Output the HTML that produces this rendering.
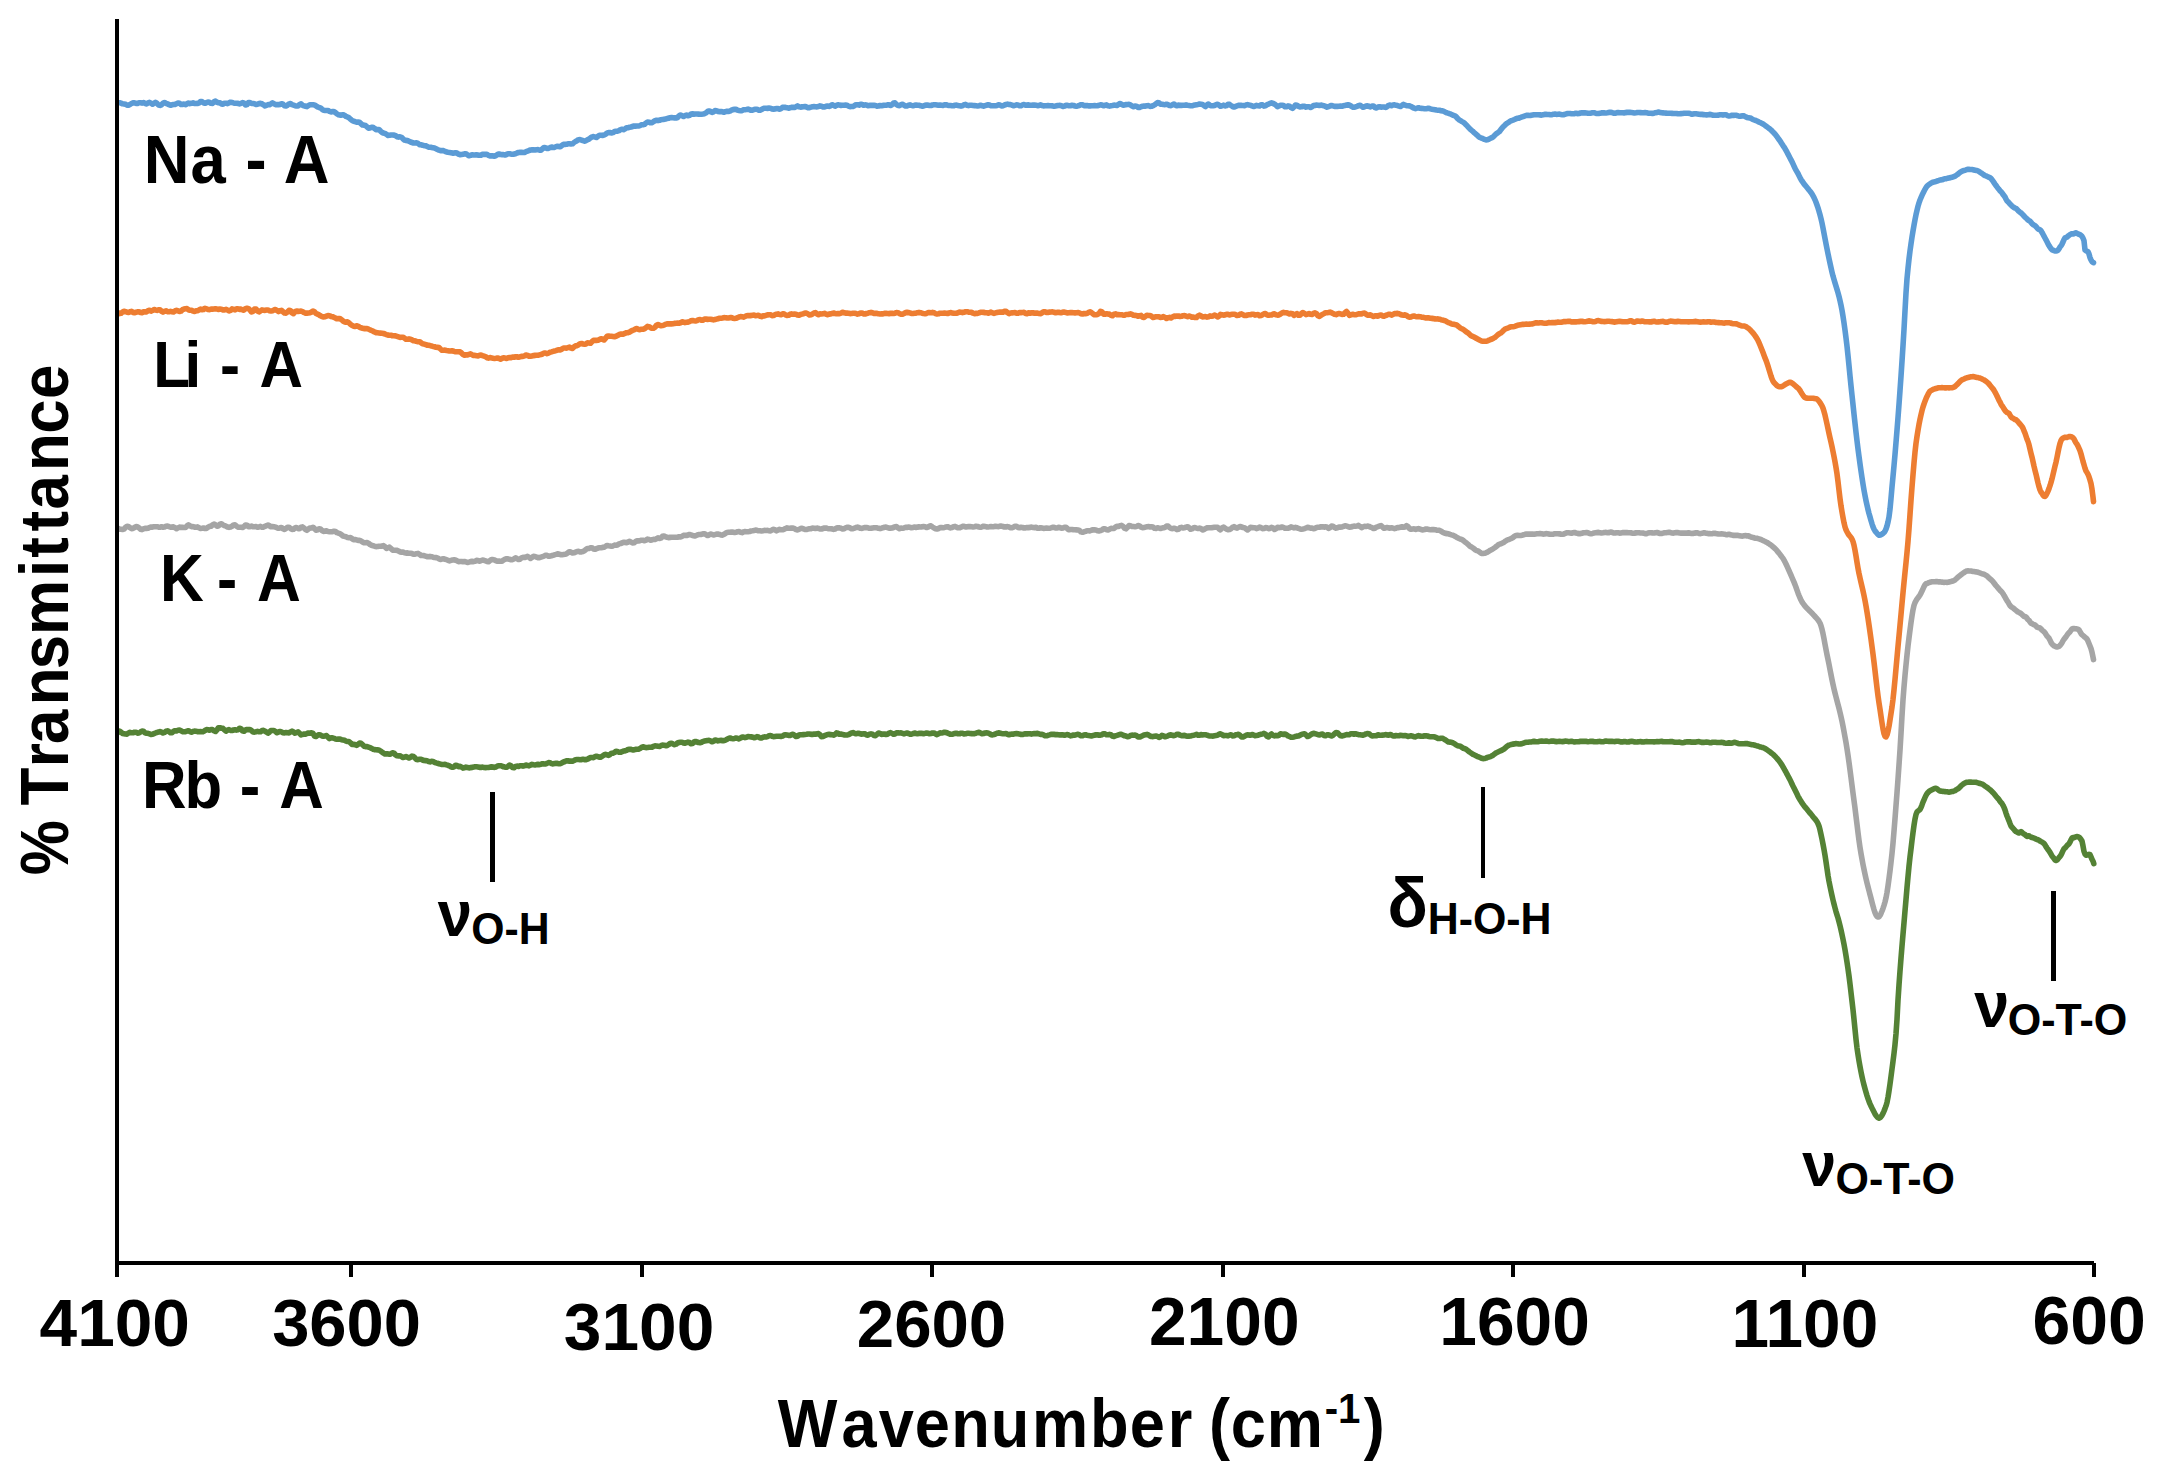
<!DOCTYPE html>
<html lang="en"><head><meta charset="utf-8"><title>FTIR spectra</title>
<style>html,body{margin:0;padding:0;background:#fff}body{width:2163px;height:1476px;overflow:hidden}</style></head>
<body>
<svg width="2163" height="1476" viewBox="0 0 2163 1476" style="display:block">
<rect width="2163" height="1476" fill="#fff"/>
<path d="M118.0,102.8 119.5,102.7 121.0,103.2 122.5,103.8 124.0,104.0 125.5,104.3 127.0,105.1 128.5,105.2 130.0,104.5 131.5,103.5 133.0,102.9 134.5,102.9 136.0,103.4 137.5,103.4 139.0,102.7 140.5,102.8 142.0,103.1 143.5,102.6 145.0,103.3 146.5,103.9 148.0,102.9 149.5,102.4 151.0,103.2 152.5,104.2 154.0,103.4 155.5,102.3 157.0,103.3 158.5,105.0 160.0,105.4 161.5,104.8 163.0,103.3 164.5,102.5 166.0,103.3 167.5,103.9 169.0,104.6 170.5,105.3 172.0,104.8 173.5,104.5 175.0,104.4 176.5,103.7 178.0,103.0 179.5,103.3 181.0,104.4 182.5,104.4 184.0,104.1 185.5,104.6 187.0,103.9 188.5,103.0 190.0,103.6 191.5,103.3 193.0,102.8 194.5,103.4 196.0,103.5 197.5,103.4 199.0,103.1 200.5,101.6 202.0,101.5 203.5,102.8 205.0,103.3 206.5,102.7 208.0,102.1 209.5,102.3 211.0,103.3 212.5,103.4 214.0,101.8 215.5,101.1 217.0,102.3 218.5,102.7 220.0,102.9 221.5,103.9 223.0,104.2 224.5,103.2 226.0,103.2 227.5,103.7 229.0,102.8 230.5,102.2 232.0,102.5 233.5,102.9 235.0,103.2 236.5,103.2 238.0,103.4 239.5,103.9 241.0,103.4 242.5,102.6 244.0,103.2 245.5,105.0 247.0,104.6 248.5,102.5 250.0,102.5 251.5,103.5 253.0,103.5 254.5,103.8 256.0,104.5 257.5,104.2 259.0,103.6 260.5,103.4 262.0,103.8 263.5,104.8 265.0,105.9 266.5,105.4 268.0,104.6 269.5,104.7 271.0,103.9 272.5,102.9 274.0,103.8 275.5,104.6 277.0,104.5 278.5,104.6 280.0,104.4 281.5,103.7 283.0,104.2 284.5,105.7 286.0,106.0 287.5,105.2 289.0,103.9 290.5,103.6 292.0,104.7 293.5,105.2 295.0,105.7 296.5,106.0 298.0,105.9 299.5,104.5 301.0,103.9 302.5,105.3 304.0,105.8 305.5,106.2 307.0,106.6 308.5,105.5 310.0,104.8 311.5,104.8 313.0,104.8 314.5,105.0 316.0,105.9 317.5,106.9 319.0,107.5 320.5,107.9 322.0,109.2 323.5,110.3 325.0,110.5 326.5,110.5 328.0,110.5 329.5,111.4 331.0,111.9 332.5,111.6 334.0,111.6 335.5,112.6 337.0,113.9 338.5,114.7 340.0,115.1 341.5,115.1 343.0,114.7 344.5,115.3 346.0,116.4 347.5,117.0 349.0,117.8 350.5,119.2 352.0,120.5 353.5,121.1 355.0,121.7 356.5,122.2 358.0,122.1 359.5,122.3 361.0,123.8 362.5,125.0 364.0,125.1 365.5,125.5 367.0,126.9 368.5,128.2 370.0,128.0 371.5,127.4 373.0,127.3 374.5,128.4 376.0,129.7 377.5,129.6 379.0,129.6 380.5,131.1 382.0,132.4 383.5,133.1 385.0,133.4 386.5,134.3 388.0,135.4 389.5,135.3 391.0,135.0 392.5,135.0 394.0,135.1 395.5,135.7 397.0,136.7 398.5,137.1 400.0,136.8 401.5,137.3 403.0,138.8 404.5,140.1 406.0,140.4 407.5,140.6 409.0,141.3 410.5,142.0 412.0,142.5 413.5,143.0 415.0,143.0 416.5,142.8 418.0,143.4 419.5,144.6 421.0,144.8 422.5,145.2 424.0,145.7 425.5,145.7 427.0,146.3 428.5,147.2 430.0,147.3 431.5,147.4 433.0,147.7 434.5,148.0 436.0,148.7 437.5,149.5 439.0,150.2 440.5,150.7 442.0,150.5 443.5,150.6 445.0,151.4 446.5,152.0 448.0,152.3 449.5,152.5 451.0,152.7 452.5,153.1 454.0,153.1 455.5,152.8 457.0,153.1 458.5,154.1 460.0,154.7 461.5,154.5 463.0,154.3 464.5,153.8 466.0,153.7 467.5,154.9 469.0,155.8 470.5,155.4 472.0,154.7 473.5,155.0 475.0,155.0 476.5,154.7 478.0,155.1 479.5,155.3 481.0,155.1 482.5,154.4 484.0,154.3 485.5,154.4 487.0,154.4 488.5,155.3 490.0,155.9 491.5,155.7 493.0,155.9 494.5,156.2 496.0,155.6 497.5,154.5 499.0,154.0 500.5,154.5 502.0,154.6 503.5,154.6 505.0,155.0 506.5,154.5 508.0,153.7 509.5,153.8 511.0,154.1 512.5,154.2 514.0,154.1 515.5,153.7 517.0,153.0 518.5,152.5 520.0,152.4 521.5,152.3 523.0,152.5 524.5,152.4 526.0,151.7 527.5,151.2 529.0,150.5 530.5,150.0 532.0,149.9 533.5,149.8 535.0,150.0 536.5,149.7 538.0,149.6 539.5,150.1 541.0,150.1 542.5,148.7 544.0,147.5 545.5,147.8 547.0,148.4 548.5,148.4 550.0,147.6 551.5,147.0 553.0,147.5 554.5,147.4 556.0,146.6 557.5,146.2 559.0,146.6 560.5,146.6 562.0,145.3 563.5,144.3 565.0,144.4 566.5,144.3 568.0,143.8 569.5,143.7 571.0,144.0 572.5,143.8 574.0,142.5 575.5,141.5 577.0,140.7 578.5,139.7 580.0,139.6 581.5,140.1 583.0,140.7 584.5,141.2 586.0,140.6 587.5,139.8 589.0,139.1 590.5,137.9 592.0,136.9 593.5,136.6 595.0,137.1 596.5,137.4 598.0,136.3 599.5,135.2 601.0,135.3 602.5,135.4 604.0,135.1 605.5,134.3 607.0,133.1 608.5,132.5 610.0,132.6 611.5,132.9 613.0,132.6 614.5,131.6 616.0,131.3 617.5,131.2 619.0,130.7 620.5,129.6 622.0,129.2 623.5,129.7 625.0,128.9 626.5,127.8 628.0,127.7 629.5,127.3 631.0,127.0 632.5,126.5 634.0,126.0 635.5,126.1 637.0,126.0 638.5,126.0 640.0,125.6 641.5,124.8 643.0,124.8 644.5,124.4 646.0,123.0 647.5,122.0 649.0,122.2 650.5,122.8 652.0,122.6 653.5,121.7 655.0,120.7 656.5,120.3 658.0,120.6 659.5,120.3 661.0,119.7 662.5,119.5 664.0,119.4 665.5,119.0 667.0,118.6 668.5,118.3 670.0,117.7 671.5,117.5 673.0,117.8 674.5,117.9 676.0,118.0 677.5,117.5 679.0,115.9 680.5,115.0 682.0,115.8 683.5,116.5 685.0,115.6 686.5,115.0 688.0,115.8 689.5,115.4 691.0,114.0 692.5,113.9 694.0,114.1 695.5,114.0 697.0,114.0 698.5,114.1 700.0,114.2 701.5,114.2 703.0,114.0 704.5,113.7 706.0,112.8 707.5,111.5 709.0,111.0 710.5,111.5 712.0,112.4 713.5,111.8 715.0,110.5 716.5,110.7 718.0,111.4 719.5,111.6 721.0,111.5 722.5,111.8 724.0,112.3 725.5,111.6 727.0,111.2 728.5,111.4 730.0,111.1 731.5,110.2 733.0,109.6 734.5,109.4 736.0,109.4 737.5,110.1 739.0,110.5 740.5,110.7 742.0,110.6 743.5,109.8 745.0,109.7 746.5,109.5 748.0,109.1 749.5,109.7 751.0,110.3 752.5,110.1 754.0,109.6 755.5,109.3 757.0,109.3 758.5,110.1 760.0,110.3 761.5,109.5 763.0,108.7 764.5,108.2 766.0,108.3 767.5,108.4 769.0,108.1 770.5,108.2 772.0,108.9 773.5,109.1 775.0,108.9 776.5,108.6 778.0,108.5 779.5,109.2 781.0,108.6 782.5,107.4 784.0,107.3 785.5,107.4 787.0,107.7 788.5,108.2 790.0,107.8 791.5,107.4 793.0,107.2 794.5,107.4 796.0,106.7 797.5,105.9 799.0,106.8 800.5,107.1 802.0,106.9 803.5,106.8 805.0,106.5 806.5,107.0 808.0,107.7 809.5,107.6 811.0,107.1 812.5,106.7 814.0,106.6 815.5,106.7 817.0,106.9 818.5,106.5 820.0,105.9 821.5,106.2 823.0,106.9 824.5,106.9 826.0,106.3 827.5,106.0 829.0,106.4 830.5,105.8 832.0,104.7 833.5,105.3 835.0,106.2 836.5,105.4 838.0,104.7 839.5,105.1 841.0,105.4 842.5,105.3 844.0,105.2 845.5,105.1 847.0,105.3 848.5,106.1 850.0,106.6 851.5,106.5 853.0,106.4 854.5,105.7 856.0,104.7 857.5,104.8 859.0,105.1 860.5,104.4 862.0,104.4 863.5,105.2 865.0,104.9 866.5,105.0 868.0,105.7 869.5,105.4 871.0,105.4 872.5,105.4 874.0,105.3 875.5,105.5 877.0,106.1 878.5,106.0 880.0,105.5 881.5,105.7 883.0,105.4 884.5,105.2 886.0,105.3 887.5,104.8 889.0,104.9 890.5,105.5 892.0,104.7 893.5,103.0 895.0,102.9 896.5,104.4 898.0,105.5 899.5,105.6 901.0,104.7 902.5,104.3 904.0,105.1 905.5,106.0 907.0,106.0 908.5,105.3 910.0,104.9 911.5,105.4 913.0,105.8 914.5,105.3 916.0,105.0 917.5,105.3 919.0,105.3 920.5,105.7 922.0,106.2 923.5,105.9 925.0,105.3 926.5,105.0 928.0,105.1 929.5,105.5 931.0,105.5 932.5,105.0 934.0,104.8 935.5,104.8 937.0,105.0 938.5,105.3 940.0,105.1 941.5,105.3 943.0,105.5 944.5,104.9 946.0,104.7 947.5,105.2 949.0,105.5 950.5,105.5 952.0,105.7 953.5,105.8 955.0,105.2 956.5,105.1 958.0,105.5 959.5,105.8 961.0,106.1 962.5,105.8 964.0,104.7 965.5,104.4 967.0,105.2 968.5,105.6 970.0,105.3 971.5,105.3 973.0,105.5 974.5,105.6 976.0,105.8 977.5,106.0 979.0,105.7 980.5,105.3 982.0,105.7 983.5,106.2 985.0,105.6 986.5,105.2 988.0,104.8 989.5,105.1 991.0,105.8 992.5,105.7 994.0,105.7 995.5,105.8 997.0,105.5 998.5,104.8 1000.0,105.0 1001.5,106.0 1003.0,105.7 1004.5,105.0 1006.0,104.5 1007.5,104.1 1009.0,104.5 1010.5,104.6 1012.0,105.1 1013.5,105.8 1015.0,105.4 1016.5,104.9 1018.0,105.0 1019.5,105.7 1021.0,105.7 1022.5,104.9 1024.0,104.5 1025.5,105.1 1027.0,105.1 1028.5,104.9 1030.0,105.3 1031.5,105.3 1033.0,105.1 1034.5,105.0 1036.0,105.2 1037.5,105.7 1039.0,105.4 1040.5,104.9 1042.0,105.5 1043.5,105.9 1045.0,105.8 1046.5,105.7 1048.0,105.5 1049.5,105.7 1051.0,105.8 1052.5,105.9 1054.0,106.3 1055.5,106.0 1057.0,105.6 1058.5,105.5 1060.0,105.4 1061.5,105.8 1063.0,106.4 1064.5,106.1 1066.0,105.4 1067.5,105.4 1069.0,105.8 1070.5,105.7 1072.0,105.3 1073.5,105.5 1075.0,106.0 1076.5,106.3 1078.0,105.9 1079.5,105.3 1081.0,104.7 1082.5,104.8 1084.0,105.6 1085.5,105.6 1087.0,105.5 1088.5,105.9 1090.0,105.9 1091.5,105.7 1093.0,105.7 1094.5,105.6 1096.0,105.8 1097.5,105.7 1099.0,105.3 1100.5,104.8 1102.0,105.1 1103.5,105.8 1105.0,105.3 1106.5,104.9 1108.0,105.8 1109.5,106.1 1111.0,105.7 1112.5,105.5 1114.0,105.1 1115.5,105.2 1117.0,105.5 1118.5,104.4 1120.0,103.5 1121.5,104.3 1123.0,105.2 1124.5,104.9 1126.0,104.6 1127.5,104.5 1129.0,104.4 1130.5,104.9 1132.0,106.0 1133.5,106.7 1135.0,106.0 1136.5,106.2 1138.0,107.5 1139.5,107.4 1141.0,106.7 1142.5,106.3 1144.0,106.1 1145.5,106.1 1147.0,105.7 1148.5,105.6 1150.0,106.4 1151.5,106.3 1153.0,105.7 1154.5,104.9 1156.0,103.8 1157.5,102.6 1159.0,102.7 1160.5,104.1 1162.0,104.2 1163.5,104.5 1165.0,104.7 1166.5,104.2 1168.0,104.7 1169.5,105.5 1171.0,105.6 1172.5,104.8 1174.0,104.0 1175.5,105.2 1177.0,105.8 1178.5,105.1 1180.0,105.4 1181.5,105.4 1183.0,105.3 1184.5,105.2 1186.0,104.9 1187.5,105.3 1189.0,105.5 1190.5,105.7 1192.0,105.8 1193.5,105.3 1195.0,105.0 1196.5,104.7 1198.0,104.4 1199.5,104.0 1201.0,104.2 1202.5,104.5 1204.0,105.6 1205.5,106.5 1207.0,104.9 1208.5,104.0 1210.0,105.3 1211.5,105.8 1213.0,105.7 1214.5,105.4 1216.0,104.7 1217.5,104.3 1219.0,105.0 1220.5,106.3 1222.0,105.9 1223.5,105.1 1225.0,105.9 1226.5,105.6 1228.0,104.2 1229.5,104.4 1231.0,105.5 1232.5,106.5 1234.0,107.0 1235.5,106.5 1237.0,105.9 1238.5,105.4 1240.0,105.2 1241.5,105.4 1243.0,105.5 1244.5,105.6 1246.0,105.0 1247.5,104.6 1249.0,105.0 1250.5,105.2 1252.0,105.9 1253.5,106.5 1255.0,106.0 1256.5,105.4 1258.0,105.7 1259.5,105.9 1261.0,104.8 1262.5,104.9 1264.0,106.1 1265.5,105.8 1267.0,104.7 1268.5,104.2 1270.0,103.3 1271.5,102.8 1273.0,103.4 1274.5,104.1 1276.0,105.2 1277.5,106.6 1279.0,106.0 1280.5,105.3 1282.0,105.2 1283.5,105.5 1285.0,106.7 1286.5,106.7 1288.0,105.9 1289.5,106.3 1291.0,107.5 1292.5,108.3 1294.0,107.0 1295.5,105.0 1297.0,105.2 1298.5,106.3 1300.0,106.9 1301.5,106.8 1303.0,106.2 1304.5,106.4 1306.0,107.1 1307.5,106.7 1309.0,106.8 1310.5,107.5 1312.0,106.7 1313.5,105.6 1315.0,105.4 1316.5,105.1 1318.0,105.2 1319.5,105.5 1321.0,105.1 1322.5,105.4 1324.0,105.7 1325.5,106.4 1327.0,107.1 1328.5,106.6 1330.0,106.0 1331.5,105.5 1333.0,105.9 1334.5,106.4 1336.0,106.2 1337.5,106.4 1339.0,106.3 1340.5,106.1 1342.0,106.2 1343.5,105.8 1345.0,105.4 1346.5,105.1 1348.0,104.9 1349.5,105.1 1351.0,106.0 1352.5,107.1 1354.0,107.3 1355.5,106.8 1357.0,106.3 1358.5,105.7 1360.0,105.3 1361.5,106.1 1363.0,107.3 1364.5,106.8 1366.0,106.1 1367.5,105.9 1369.0,106.3 1370.5,106.9 1372.0,106.1 1373.5,106.0 1375.0,107.6 1376.5,108.0 1378.0,107.0 1379.5,106.7 1381.0,107.2 1382.5,107.0 1384.0,107.0 1385.5,107.4 1387.0,106.8 1388.5,105.4 1390.0,105.1 1391.5,105.7 1393.0,105.0 1394.5,104.8 1396.0,105.3 1397.5,105.6 1399.0,106.1 1400.5,106.5 1402.0,105.4 1403.5,104.4 1405.0,105.2 1406.5,105.7 1408.0,105.7 1409.5,105.9 1411.0,106.5 1412.5,107.4 1414.0,108.1 1415.5,108.6 1417.0,108.1 1418.5,107.7 1420.0,108.3 1421.5,108.4 1423.0,108.5 1424.5,108.7 1426.0,108.7 1427.5,108.4 1429.0,108.3 1430.5,108.9 1432.0,109.3 1433.5,109.5 1435.0,109.7 1436.5,110.0 1438.0,110.2 1439.5,110.3 1441.0,110.7 1442.5,110.9 1444.0,111.4 1445.5,112.2 1447.0,112.9 1448.5,113.3 1450.0,113.8 1451.5,114.5 1453.0,115.2 1454.5,115.6 1456.0,116.6 1457.5,118.4 1459.0,119.8 1460.5,120.7 1462.0,121.6 1463.5,122.4 1465.0,123.7 1466.5,125.2 1468.0,126.8 1469.5,128.5 1471.0,129.9 1472.5,131.1 1474.0,132.6 1475.5,133.7 1477.0,135.1 1478.5,136.6 1480.0,137.5 1481.5,138.1 1483.0,138.7 1484.5,139.4 1486.0,139.9 1487.5,139.8 1489.0,139.1 1490.5,138.3 1492.0,137.6 1493.5,136.6 1495.0,135.1 1496.5,133.6 1498.0,132.6 1499.5,131.5 1501.0,129.4 1502.5,127.6 1504.0,126.1 1505.5,124.5 1507.0,123.3 1508.5,122.4 1510.0,121.3 1511.5,120.6 1513.0,120.1 1514.5,119.5 1516.0,118.7 1517.5,118.3 1519.0,118.1 1520.5,117.5 1522.0,116.9 1523.5,116.5 1525.0,115.9 1526.5,115.4 1528.0,115.3 1529.5,115.5 1531.0,115.4 1532.5,115.0 1534.0,114.7 1535.5,114.7 1537.0,114.7 1538.5,114.7 1540.0,114.9 1541.5,115.1 1543.0,114.7 1544.5,114.4 1546.0,114.4 1547.5,114.5 1549.0,114.5 1550.5,114.8 1552.0,114.7 1553.5,114.2 1555.0,114.0 1556.5,114.4 1558.0,114.3 1559.5,114.1 1561.0,114.5 1562.5,114.8 1564.0,114.6 1565.5,114.1 1567.0,113.6 1568.5,113.5 1570.0,113.5 1571.5,113.7 1573.0,113.8 1574.5,113.6 1576.0,113.3 1577.5,113.6 1579.0,113.5 1580.5,113.0 1582.0,112.7 1583.5,112.9 1585.0,112.9 1586.5,113.0 1588.0,113.2 1589.5,113.3 1591.0,113.1 1592.5,112.8 1594.0,112.7 1595.5,113.2 1597.0,113.5 1598.5,113.5 1600.0,113.2 1601.5,112.9 1603.0,112.7 1604.5,112.9 1606.0,113.0 1607.5,112.8 1609.0,112.4 1610.5,112.3 1612.0,112.6 1613.5,113.1 1615.0,113.3 1616.5,112.8 1618.0,112.5 1619.5,112.8 1621.0,112.8 1622.5,112.8 1624.0,112.9 1625.5,112.6 1627.0,112.4 1628.5,112.4 1630.0,112.4 1631.5,112.5 1633.0,112.7 1634.5,113.0 1636.0,112.8 1637.5,112.5 1639.0,112.5 1640.5,112.6 1642.0,112.7 1643.5,112.7 1645.0,112.6 1646.5,112.8 1648.0,113.1 1649.5,113.3 1651.0,113.2 1652.5,113.4 1654.0,113.2 1655.5,112.7 1657.0,112.4 1658.5,112.1 1660.0,112.4 1661.5,112.8 1663.0,112.9 1664.5,113.0 1666.0,113.1 1667.5,113.2 1669.0,113.2 1670.5,113.3 1672.0,113.4 1673.5,113.5 1675.0,113.5 1676.5,113.5 1678.0,113.8 1679.5,113.7 1681.0,113.6 1682.5,113.5 1684.0,113.3 1685.5,113.2 1687.0,113.3 1688.5,113.2 1690.0,113.5 1691.5,114.1 1693.0,114.1 1694.5,113.8 1696.0,113.8 1697.5,114.0 1699.0,114.3 1700.5,114.4 1702.0,114.4 1703.5,114.6 1705.0,114.8 1706.5,114.9 1708.0,114.7 1709.5,114.4 1711.0,114.6 1712.5,115.1 1714.0,115.2 1715.5,115.3 1717.0,115.3 1718.5,115.1 1720.0,114.7 1721.5,114.8 1723.0,115.1 1724.5,114.8 1726.0,114.8 1727.5,115.6 1729.0,116.0 1730.5,115.7 1732.0,115.3 1733.5,115.4 1735.0,115.2 1736.5,115.3 1738.0,115.9 1739.5,116.3 1741.0,116.1 1742.5,115.7 1744.0,115.9 1745.5,116.7 1747.0,117.4 1748.5,117.7 1750.0,118.0 1751.0,118.3 1752.0,119.0 1753.0,119.5 1754.0,119.9 1755.0,120.2 1756.0,120.6 1757.0,121.0 1758.0,121.5 1759.0,122.1 1760.0,122.5 1761.0,122.9 1762.0,123.4 1763.0,124.0 1764.0,124.6 1765.0,125.4 1766.0,126.2 1767.0,126.8 1768.0,127.6 1769.0,128.4 1770.0,129.1 1771.0,129.9 1772.0,131.0 1773.0,132.0 1774.0,133.0 1775.0,134.1 1776.0,135.3 1777.0,136.7 1778.0,138.1 1779.0,139.5 1780.0,140.9 1781.0,142.4 1782.0,144.0 1783.0,145.6 1784.0,147.0 1785.0,148.6 1786.0,150.4 1787.0,152.2 1788.0,154.1 1789.0,156.1 1790.0,158.0 1791.0,159.9 1792.0,161.8 1793.0,163.9 1794.0,166.1 1795.0,168.2 1796.0,170.1 1797.0,171.8 1798.0,173.5 1799.0,175.6 1800.0,177.6 1801.0,179.4 1802.0,181.0 1803.0,182.4 1804.0,183.9 1805.0,185.1 1806.0,186.3 1807.0,187.5 1808.0,188.7 1809.0,190.0 1810.0,191.2 1811.0,192.5 1812.0,194.1 1813.0,195.7 1814.0,197.6 1815.0,199.8 1816.0,202.3 1817.0,205.0 1818.0,207.9 1819.0,211.2 1820.0,214.8 1821.0,218.6 1822.0,223.0 1823.0,228.0 1824.0,233.2 1825.0,238.5 1826.0,243.8 1827.0,248.8 1828.0,253.7 1829.0,258.5 1830.0,263.2 1831.0,267.7 1832.0,272.1 1833.0,276.1 1834.0,279.6 1835.0,282.9 1836.0,286.1 1837.0,289.3 1838.0,292.7 1839.0,296.4 1840.0,300.6 1841.0,305.2 1842.0,310.3 1843.0,316.2 1844.0,322.9 1845.0,330.1 1846.0,337.8 1847.0,346.2 1848.0,355.6 1849.0,365.6 1850.0,375.9 1851.0,385.9 1852.0,395.2 1853.0,404.6 1854.0,414.1 1855.0,423.3 1856.0,432.2 1857.0,440.8 1858.0,448.8 1859.0,456.4 1860.0,463.9 1861.0,470.9 1862.0,477.6 1863.0,484.1 1864.0,490.1 1865.0,495.6 1866.0,500.6 1867.0,505.2 1868.0,509.5 1869.0,513.5 1870.0,516.9 1871.0,520.4 1872.0,523.8 1873.0,526.8 1874.0,529.2 1875.0,530.9 1876.0,532.1 1877.0,533.3 1878.0,534.4 1879.0,535.1 1880.0,535.1 1881.0,534.8 1882.0,534.1 1883.0,533.4 1884.0,532.5 1885.0,531.2 1886.0,529.0 1887.0,526.0 1888.0,522.0 1889.0,517.0 1890.0,509.2 1891.0,498.4 1892.0,487.1 1893.0,476.5 1894.0,465.7 1895.0,454.4 1896.0,442.5 1897.0,430.3 1898.0,417.6 1899.0,404.4 1900.0,390.5 1901.0,376.2 1902.0,361.3 1903.0,345.7 1904.0,329.3 1905.0,310.9 1906.0,293.0 1907.0,278.8 1908.0,268.4 1909.0,259.1 1910.0,251.0 1911.0,243.9 1912.0,237.2 1913.0,231.0 1914.0,225.2 1915.0,219.7 1916.0,214.7 1917.0,210.3 1918.0,206.3 1919.0,202.9 1920.0,200.0 1921.0,197.6 1922.0,195.3 1923.0,193.3 1924.0,191.2 1925.0,189.3 1926.0,187.6 1927.0,186.2 1928.0,185.2 1929.0,184.5 1930.0,183.8 1931.0,183.2 1932.0,182.6 1933.0,182.2 1934.0,181.9 1935.0,181.7 1936.0,181.5 1937.0,181.1 1938.0,180.7 1939.0,180.4 1940.0,180.0 1941.0,179.9 1942.0,179.8 1943.0,179.5 1944.0,179.0 1945.0,178.8 1946.0,178.7 1947.0,178.4 1948.0,178.1 1949.0,178.0 1950.0,177.7 1951.0,177.4 1952.0,177.2 1953.0,177.0 1954.0,176.6 1955.0,176.2 1956.0,175.5 1957.0,174.8 1958.0,174.1 1959.0,173.2 1960.0,172.4 1961.0,171.7 1962.0,171.2 1963.0,170.8 1964.0,170.4 1965.0,170.2 1966.0,169.9 1967.0,169.5 1968.0,169.3 1969.0,169.4 1970.0,169.5 1971.0,169.5 1972.0,169.5 1973.0,169.7 1974.0,170.0 1975.0,170.3 1976.0,170.4 1977.0,170.6 1978.0,170.9 1979.0,171.4 1980.0,172.2 1981.0,172.9 1982.0,173.5 1983.0,174.2 1984.0,175.0 1985.0,175.6 1986.0,175.9 1987.0,176.3 1988.0,176.9 1989.0,177.3 1990.0,177.7 1991.0,178.5 1992.0,179.8 1993.0,181.1 1994.0,182.6 1995.0,184.1 1996.0,185.5 1997.0,186.9 1998.0,188.2 1999.0,189.4 2000.0,190.7 2001.0,191.7 2002.0,192.8 2003.0,194.4 2004.0,195.6 2005.0,197.0 2006.0,199.2 2007.0,200.9 2008.0,201.7 2009.0,202.8 2010.0,204.1 2011.0,205.1 2012.0,206.1 2013.0,206.9 2014.0,207.5 2015.0,208.1 2016.0,208.4 2017.0,209.3 2018.0,210.4 2019.0,211.4 2020.0,212.2 2021.0,212.9 2022.0,213.8 2023.0,214.9 2024.0,216.0 2025.0,217.1 2026.0,218.0 2027.0,218.9 2028.0,219.9 2029.0,220.6 2030.0,221.2 2031.0,222.3 2032.0,223.6 2033.0,224.5 2034.0,225.1 2035.0,225.7 2036.0,226.6 2037.0,227.8 2038.0,228.9 2039.0,229.4 2040.0,229.8 2041.0,230.8 2042.0,232.4 2043.0,234.3 2044.0,236.2 2045.0,238.0 2046.0,239.8 2047.0,241.7 2048.0,243.7 2049.0,245.6 2050.0,247.2 2051.0,248.6 2052.0,249.8 2053.0,250.2 2054.0,250.6 2055.0,251.0 2056.0,251.0 2057.0,250.8 2058.0,250.3 2059.0,248.8 2060.0,247.0 2061.0,245.8 2062.0,244.2 2063.0,242.0 2064.0,239.6 2065.0,237.9 2066.0,237.5 2067.0,237.1 2068.0,236.2 2069.0,235.3 2070.0,234.7 2071.0,234.1 2072.0,233.7 2073.0,233.9 2074.0,233.7 2075.0,233.0 2076.0,232.9 2077.0,233.3 2078.0,233.9 2079.0,234.3 2080.0,234.7 2081.0,235.3 2082.0,236.4 2083.0,238.1 2084.0,240.8 2085.0,250.0 2086.0,250.7 2087.0,251.2 2088.0,251.7 2089.0,253.9 2090.0,257.6 2091.0,259.9 2092.0,261.6 2093.0,262.5 2093.5,262.7" fill="none" stroke="#5B9BD5" stroke-width="5.6" stroke-linejoin="round" stroke-linecap="round"/>
<path d="M118.0,312.6 119.5,313.6 121.0,313.3 122.5,312.0 124.0,311.3 125.5,311.7 127.0,312.2 128.5,312.4 130.0,311.8 131.5,311.4 133.0,312.4 134.5,312.7 136.0,312.3 137.5,311.9 139.0,311.7 140.5,312.4 142.0,312.6 143.5,311.9 145.0,311.8 146.5,311.9 148.0,310.7 149.5,310.3 151.0,311.1 152.5,310.5 154.0,309.5 155.5,310.0 157.0,310.4 158.5,309.8 160.0,309.8 161.5,311.3 163.0,312.1 164.5,311.3 166.0,310.8 167.5,311.6 169.0,311.8 170.5,311.4 172.0,311.8 173.5,312.0 175.0,310.9 176.5,310.3 178.0,310.9 179.5,311.5 181.0,311.1 182.5,309.7 184.0,309.1 185.5,308.8 187.0,308.6 188.5,309.8 190.0,310.3 191.5,310.2 193.0,311.1 194.5,311.4 196.0,310.8 197.5,310.7 199.0,310.0 200.5,309.1 202.0,309.7 203.5,309.5 205.0,308.3 206.5,308.8 208.0,309.5 209.5,309.6 211.0,309.1 212.5,309.1 214.0,309.0 215.5,308.7 217.0,309.1 218.5,309.4 220.0,309.1 221.5,309.2 223.0,309.9 224.5,309.9 226.0,309.4 227.5,310.0 229.0,311.0 230.5,310.4 232.0,308.9 233.5,309.4 235.0,309.9 236.5,308.9 238.0,308.9 239.5,309.4 241.0,309.1 242.5,309.9 244.0,310.1 245.5,308.6 247.0,308.2 248.5,308.6 250.0,310.0 251.5,311.9 253.0,311.3 254.5,309.0 256.0,309.1 257.5,311.0 259.0,311.8 260.5,310.8 262.0,309.9 263.5,310.2 265.0,310.4 266.5,310.0 268.0,310.0 269.5,310.7 271.0,311.0 272.5,310.7 274.0,310.0 275.5,309.5 277.0,310.5 278.5,311.6 280.0,310.8 281.5,310.4 283.0,311.8 284.5,313.0 286.0,313.1 287.5,312.0 289.0,310.4 290.5,310.5 292.0,312.9 293.5,313.7 295.0,311.6 296.5,311.0 298.0,311.5 299.5,311.2 301.0,311.1 302.5,311.6 304.0,312.5 305.5,313.1 307.0,313.1 308.5,313.0 310.0,312.8 311.5,312.1 313.0,311.0 314.5,311.7 316.0,313.5 317.5,314.1 319.0,314.8 320.5,315.8 322.0,316.6 323.5,316.9 325.0,316.8 326.5,316.1 328.0,315.5 329.5,315.7 331.0,316.4 332.5,316.7 334.0,317.3 335.5,318.2 337.0,318.8 338.5,318.6 340.0,318.6 341.5,319.7 343.0,321.0 344.5,321.9 346.0,322.1 347.5,321.9 349.0,322.8 350.5,324.4 352.0,325.3 353.5,326.2 355.0,326.4 356.5,325.8 358.0,326.2 359.5,327.2 361.0,327.8 362.5,328.2 364.0,328.6 365.5,328.6 367.0,328.5 368.5,329.1 370.0,329.9 371.5,330.5 373.0,331.1 374.5,332.0 376.0,332.6 377.5,332.8 379.0,333.0 380.5,333.1 382.0,333.2 383.5,333.5 385.0,334.0 386.5,334.6 388.0,335.1 389.5,335.2 391.0,335.2 392.5,335.8 394.0,335.8 395.5,335.9 397.0,336.4 398.5,336.9 400.0,337.4 401.5,337.3 403.0,337.2 404.5,338.1 406.0,339.3 407.5,339.2 409.0,338.9 410.5,339.2 412.0,339.9 413.5,340.8 415.0,340.8 416.5,341.4 418.0,341.8 419.5,341.7 421.0,342.7 422.5,343.8 424.0,344.1 425.5,344.5 427.0,345.1 428.5,345.3 430.0,345.6 431.5,346.0 433.0,346.4 434.5,346.7 436.0,347.3 437.5,347.4 439.0,347.6 440.5,349.0 442.0,350.3 443.5,350.3 445.0,350.1 446.5,350.5 448.0,350.7 449.5,351.0 451.0,350.9 452.5,350.7 454.0,351.4 455.5,351.8 457.0,351.7 458.5,351.7 460.0,351.9 461.5,352.9 463.0,354.4 464.5,355.1 466.0,354.9 467.5,354.9 469.0,354.3 470.5,353.8 472.0,354.7 473.5,355.4 475.0,355.4 476.5,355.8 478.0,355.9 479.5,355.3 481.0,355.1 482.5,355.7 484.0,356.2 485.5,356.7 487.0,357.7 488.5,358.1 490.0,357.6 491.5,357.9 493.0,358.3 494.5,358.5 496.0,358.3 497.5,358.0 499.0,358.5 500.5,359.1 502.0,358.4 503.5,357.7 505.0,358.1 506.5,358.4 508.0,357.8 509.5,357.6 511.0,357.7 512.5,357.1 514.0,357.1 515.5,356.9 517.0,356.7 518.5,357.3 520.0,356.9 521.5,356.3 523.0,356.4 524.5,355.9 526.0,355.0 527.5,355.4 529.0,356.1 530.5,356.3 532.0,355.9 533.5,355.6 535.0,355.4 536.5,355.3 538.0,355.3 539.5,354.9 541.0,354.5 542.5,354.0 544.0,353.0 545.5,353.0 547.0,353.6 548.5,353.1 550.0,352.3 551.5,351.9 553.0,351.4 554.5,351.0 556.0,350.6 557.5,350.0 559.0,349.7 560.5,349.9 562.0,349.0 563.5,348.0 565.0,348.0 566.5,348.1 568.0,347.6 569.5,347.1 571.0,348.1 572.5,348.5 574.0,346.8 575.5,345.9 577.0,345.7 578.5,344.8 580.0,343.7 581.5,343.5 583.0,344.0 584.5,344.2 586.0,343.9 587.5,342.9 589.0,343.0 590.5,343.3 592.0,341.7 593.5,340.4 595.0,340.4 596.5,340.4 598.0,340.3 599.5,339.5 601.0,338.7 602.5,339.2 604.0,340.0 605.5,338.4 607.0,336.3 608.5,336.0 610.0,336.3 611.5,336.3 613.0,336.5 614.5,336.7 616.0,336.3 617.5,335.5 619.0,334.7 620.5,334.1 622.0,334.1 623.5,334.1 625.0,333.3 626.5,332.7 628.0,332.7 629.5,332.1 631.0,331.1 632.5,330.4 634.0,329.9 635.5,329.0 637.0,328.5 638.5,329.5 640.0,329.7 641.5,329.2 643.0,329.2 644.5,328.8 646.0,327.6 647.5,326.4 649.0,326.7 650.5,327.7 652.0,328.3 653.5,328.3 655.0,327.2 656.5,325.2 658.0,324.5 659.5,325.3 661.0,325.7 662.5,325.5 664.0,325.1 665.5,324.3 667.0,323.8 668.5,323.9 670.0,323.9 671.5,323.9 673.0,323.8 674.5,323.4 676.0,323.2 677.5,323.1 679.0,323.2 680.5,322.8 682.0,321.9 683.5,322.1 685.0,322.6 686.5,322.3 688.0,322.1 689.5,321.6 691.0,320.8 692.5,320.5 694.0,320.8 695.5,321.0 697.0,320.6 698.5,319.7 700.0,319.5 701.5,320.3 703.0,320.1 704.5,319.1 706.0,319.1 707.5,319.4 709.0,319.3 710.5,319.2 712.0,319.5 713.5,319.9 715.0,319.5 716.5,319.1 718.0,318.7 719.5,318.3 721.0,318.3 722.5,318.0 724.0,317.6 725.5,317.7 727.0,317.9 728.5,318.0 730.0,317.6 731.5,317.6 733.0,318.3 734.5,318.5 736.0,318.3 737.5,317.7 739.0,317.0 740.5,316.6 742.0,316.8 743.5,317.1 745.0,316.5 746.5,315.8 748.0,315.6 749.5,315.6 751.0,315.6 752.5,315.2 754.0,315.1 755.5,315.7 757.0,315.5 758.5,315.2 760.0,316.3 761.5,316.6 763.0,315.9 764.5,315.9 766.0,315.4 767.5,314.9 769.0,314.7 770.5,314.8 772.0,315.6 773.5,315.5 775.0,314.7 776.5,314.2 778.0,313.9 779.5,314.5 781.0,314.7 782.5,313.9 784.0,313.9 785.5,314.8 787.0,315.4 788.5,315.3 790.0,314.3 791.5,313.9 793.0,314.2 794.5,314.0 796.0,314.2 797.5,315.0 799.0,315.3 800.5,314.5 802.0,314.1 803.5,313.7 805.0,313.1 806.5,313.1 808.0,313.9 809.5,315.0 811.0,314.8 812.5,314.0 814.0,313.0 815.5,312.6 817.0,313.9 818.5,314.6 820.0,313.9 821.5,314.0 823.0,313.8 824.5,313.3 826.0,314.1 827.5,314.7 829.0,314.1 830.5,313.9 832.0,313.6 833.5,313.0 835.0,313.5 836.5,313.8 838.0,313.5 839.5,313.6 841.0,313.1 842.5,312.3 844.0,312.7 845.5,313.1 847.0,313.1 848.5,313.3 850.0,313.6 851.5,313.5 853.0,313.3 854.5,313.2 856.0,313.5 857.5,314.1 859.0,313.8 860.5,313.0 862.0,313.0 863.5,313.9 865.0,314.0 866.5,313.5 868.0,313.2 869.5,312.7 871.0,312.4 872.5,312.8 874.0,313.4 875.5,313.4 877.0,313.3 878.5,313.8 880.0,314.0 881.5,313.9 883.0,313.9 884.5,313.4 886.0,313.3 887.5,313.5 889.0,313.6 890.5,313.4 892.0,313.2 893.5,313.5 895.0,313.2 896.5,312.6 898.0,312.7 899.5,313.6 901.0,314.2 902.5,314.2 904.0,313.5 905.5,312.6 907.0,312.4 908.5,312.6 910.0,312.9 911.5,313.5 913.0,313.5 914.5,313.3 916.0,313.2 917.5,312.7 919.0,312.4 920.5,312.7 922.0,313.2 923.5,313.5 925.0,313.7 926.5,313.4 928.0,312.6 929.5,312.6 931.0,312.7 932.5,312.4 934.0,312.8 935.5,313.6 937.0,314.0 938.5,313.8 940.0,313.2 941.5,313.2 943.0,313.3 944.5,313.1 946.0,313.3 947.5,313.5 949.0,313.0 950.5,312.6 952.0,312.9 953.5,313.3 955.0,313.3 956.5,313.2 958.0,312.8 959.5,312.1 961.0,312.2 962.5,312.6 964.0,312.2 965.5,311.8 967.0,311.8 968.5,312.1 970.0,312.3 971.5,312.4 973.0,313.1 974.5,313.6 976.0,313.4 977.5,313.4 979.0,312.9 980.5,312.3 982.0,312.2 983.5,312.4 985.0,312.6 986.5,312.7 988.0,313.2 989.5,312.8 991.0,312.1 992.5,312.9 994.0,313.4 995.5,312.9 997.0,312.5 998.5,312.2 1000.0,312.0 1001.5,312.1 1003.0,312.1 1004.5,311.4 1006.0,311.2 1007.5,312.7 1009.0,313.6 1010.5,313.0 1012.0,312.9 1013.5,312.8 1015.0,312.6 1016.5,313.2 1018.0,313.2 1019.5,312.5 1021.0,312.6 1022.5,312.5 1024.0,312.4 1025.5,313.4 1027.0,313.6 1028.5,312.9 1030.0,313.1 1031.5,312.9 1033.0,312.8 1034.5,313.2 1036.0,313.0 1037.5,313.1 1039.0,313.5 1040.5,313.6 1042.0,312.9 1043.5,311.7 1045.0,311.8 1046.5,312.5 1048.0,312.4 1049.5,312.1 1051.0,312.0 1052.5,311.9 1054.0,312.3 1055.5,312.7 1057.0,312.4 1058.5,312.2 1060.0,312.7 1061.5,312.7 1063.0,312.1 1064.5,312.1 1066.0,312.6 1067.5,312.9 1069.0,312.8 1070.5,312.6 1072.0,312.6 1073.5,312.7 1075.0,312.9 1076.5,312.7 1078.0,312.6 1079.5,312.9 1081.0,313.7 1082.5,314.0 1084.0,313.5 1085.5,313.6 1087.0,313.5 1088.5,312.4 1090.0,311.9 1091.5,312.6 1093.0,313.8 1094.5,314.8 1096.0,314.7 1097.5,314.4 1099.0,313.5 1100.5,311.3 1102.0,311.9 1103.5,314.1 1105.0,314.2 1106.5,313.8 1108.0,314.1 1109.5,314.1 1111.0,315.3 1112.5,315.7 1114.0,314.2 1115.5,313.9 1117.0,314.6 1118.5,314.6 1120.0,314.7 1121.5,314.7 1123.0,315.2 1124.5,315.2 1126.0,314.5 1127.5,314.5 1129.0,314.4 1130.5,313.9 1132.0,314.4 1133.5,315.3 1135.0,315.4 1136.5,315.5 1138.0,316.3 1139.5,315.7 1141.0,315.4 1142.5,317.0 1144.0,317.5 1145.5,316.1 1147.0,315.3 1148.5,315.5 1150.0,315.5 1151.5,316.3 1153.0,317.4 1154.5,317.2 1156.0,316.7 1157.5,316.7 1159.0,316.8 1160.5,317.4 1162.0,317.3 1163.5,316.6 1165.0,317.4 1166.5,318.5 1168.0,317.7 1169.5,317.4 1171.0,318.0 1172.5,316.9 1174.0,316.1 1175.5,316.4 1177.0,316.0 1178.5,316.0 1180.0,316.5 1181.5,316.3 1183.0,315.7 1184.5,315.6 1186.0,316.2 1187.5,316.7 1189.0,316.0 1190.5,316.4 1192.0,317.3 1193.5,317.1 1195.0,317.5 1196.5,317.5 1198.0,315.9 1199.5,315.1 1201.0,316.0 1202.5,316.9 1204.0,316.8 1205.5,316.6 1207.0,317.1 1208.5,316.7 1210.0,315.9 1211.5,316.3 1213.0,316.0 1214.5,315.0 1216.0,315.7 1217.5,317.0 1219.0,316.1 1220.5,314.4 1222.0,314.7 1223.5,315.1 1225.0,314.9 1226.5,314.3 1228.0,314.3 1229.5,314.9 1231.0,314.6 1232.5,314.3 1234.0,314.3 1235.5,314.6 1237.0,315.5 1238.5,315.3 1240.0,314.3 1241.5,313.9 1243.0,314.7 1244.5,315.5 1246.0,315.5 1247.5,315.0 1249.0,314.7 1250.5,314.7 1252.0,314.3 1253.5,314.2 1255.0,315.1 1256.5,314.7 1258.0,314.6 1259.5,315.7 1261.0,315.5 1262.5,314.7 1264.0,313.8 1265.5,313.5 1267.0,314.8 1268.5,315.3 1270.0,315.0 1271.5,315.0 1273.0,314.1 1274.5,313.9 1276.0,314.8 1277.5,315.1 1279.0,314.9 1280.5,314.0 1282.0,312.9 1283.5,312.4 1285.0,312.7 1286.5,312.8 1288.0,313.2 1289.5,314.0 1291.0,313.4 1292.5,313.7 1294.0,315.3 1295.5,314.3 1297.0,313.7 1298.5,315.3 1300.0,315.3 1301.5,313.4 1303.0,312.5 1304.5,313.5 1306.0,314.6 1307.5,314.1 1309.0,313.5 1310.5,314.3 1312.0,314.5 1313.5,313.4 1315.0,312.8 1316.5,313.7 1318.0,315.7 1319.5,316.4 1321.0,315.2 1322.5,314.4 1324.0,313.6 1325.5,312.7 1327.0,312.8 1328.5,312.5 1330.0,312.1 1331.5,312.7 1333.0,313.5 1334.5,314.3 1336.0,314.6 1337.5,313.9 1339.0,313.5 1340.5,313.9 1342.0,314.4 1343.5,314.3 1345.0,312.6 1346.5,311.4 1348.0,313.3 1349.5,315.4 1351.0,314.9 1352.5,314.2 1354.0,314.7 1355.5,314.8 1357.0,314.3 1358.5,313.8 1360.0,313.9 1361.5,313.9 1363.0,313.2 1364.5,313.1 1366.0,314.1 1367.5,315.1 1369.0,315.1 1370.5,314.9 1372.0,315.7 1373.5,316.4 1375.0,315.8 1376.5,315.9 1378.0,316.2 1379.5,315.2 1381.0,315.0 1382.5,315.9 1384.0,316.2 1385.5,315.5 1387.0,315.0 1388.5,314.4 1390.0,314.3 1391.5,315.1 1393.0,314.5 1394.5,313.5 1396.0,313.6 1397.5,313.4 1399.0,313.8 1400.5,314.5 1402.0,315.0 1403.5,315.2 1405.0,314.8 1406.5,315.3 1408.0,316.6 1409.5,317.2 1411.0,317.0 1412.5,316.3 1414.0,316.0 1415.5,316.4 1417.0,316.7 1418.5,316.6 1420.0,316.8 1421.5,317.1 1423.0,317.2 1424.5,317.6 1426.0,318.0 1427.5,317.8 1429.0,317.9 1430.5,318.2 1432.0,318.4 1433.5,318.6 1435.0,318.9 1436.5,319.0 1438.0,318.9 1439.5,319.2 1441.0,319.7 1442.5,320.1 1444.0,320.4 1445.5,320.9 1447.0,321.8 1448.5,322.7 1450.0,323.2 1451.5,323.8 1453.0,324.3 1454.5,324.4 1456.0,324.7 1457.5,325.7 1459.0,326.9 1460.5,328.1 1462.0,328.9 1463.5,329.5 1465.0,330.8 1466.5,332.0 1468.0,332.9 1469.5,334.3 1471.0,335.7 1472.5,336.3 1474.0,337.0 1475.5,337.9 1477.0,338.6 1478.5,339.5 1480.0,340.3 1481.5,341.0 1483.0,341.3 1484.5,341.3 1486.0,341.3 1487.5,340.8 1489.0,340.2 1490.5,339.5 1492.0,339.0 1493.5,338.2 1495.0,337.3 1496.5,336.0 1498.0,334.7 1499.5,333.7 1501.0,332.8 1502.5,331.5 1504.0,329.9 1505.5,328.8 1507.0,328.3 1508.5,327.8 1510.0,327.1 1511.5,326.8 1513.0,326.7 1514.5,326.5 1516.0,325.9 1517.5,325.3 1519.0,325.0 1520.5,324.7 1522.0,324.4 1523.5,324.4 1525.0,324.3 1526.5,324.1 1528.0,324.2 1529.5,324.1 1531.0,324.0 1532.5,323.9 1534.0,323.4 1535.5,322.9 1537.0,322.9 1538.5,323.0 1540.0,322.8 1541.5,322.7 1543.0,323.0 1544.5,323.2 1546.0,323.2 1547.5,322.9 1549.0,322.6 1550.5,322.7 1552.0,322.6 1553.5,322.5 1555.0,322.6 1556.5,322.4 1558.0,322.1 1559.5,322.2 1561.0,322.2 1562.5,321.9 1564.0,321.6 1565.5,321.6 1567.0,321.5 1568.5,321.2 1570.0,321.4 1571.5,322.0 1573.0,321.9 1574.5,321.8 1576.0,321.9 1577.5,321.8 1579.0,321.6 1580.5,321.4 1582.0,321.4 1583.5,321.6 1585.0,321.7 1586.5,321.5 1588.0,321.1 1589.5,320.9 1591.0,321.2 1592.5,321.7 1594.0,321.8 1595.5,321.5 1597.0,320.8 1598.5,320.6 1600.0,321.1 1601.5,321.4 1603.0,321.5 1604.5,321.6 1606.0,321.5 1607.5,321.2 1609.0,321.3 1610.5,321.5 1612.0,321.6 1613.5,321.9 1615.0,322.1 1616.5,321.8 1618.0,321.5 1619.5,321.3 1621.0,321.5 1622.5,321.8 1624.0,321.8 1625.5,321.7 1627.0,321.7 1628.5,321.4 1630.0,320.8 1631.5,320.9 1633.0,321.9 1634.5,322.1 1636.0,321.5 1637.5,321.0 1639.0,321.2 1640.5,321.4 1642.0,321.1 1643.5,321.3 1645.0,321.8 1646.5,321.8 1648.0,321.8 1649.5,321.9 1651.0,322.0 1652.5,321.5 1654.0,321.2 1655.5,321.7 1657.0,322.0 1658.5,321.9 1660.0,321.8 1661.5,321.5 1663.0,321.4 1664.5,322.0 1666.0,322.3 1667.5,322.1 1669.0,321.5 1670.5,321.1 1672.0,321.2 1673.5,321.5 1675.0,321.8 1676.5,321.6 1678.0,321.4 1679.5,321.5 1681.0,321.7 1682.5,321.7 1684.0,321.7 1685.5,321.7 1687.0,321.8 1688.5,321.9 1690.0,321.7 1691.5,321.7 1693.0,321.8 1694.5,321.6 1696.0,321.4 1697.5,321.7 1699.0,322.0 1700.5,322.1 1702.0,322.0 1703.5,321.9 1705.0,322.0 1706.5,322.0 1708.0,321.7 1709.5,321.8 1711.0,322.2 1712.5,322.0 1714.0,322.0 1715.5,322.4 1717.0,322.5 1718.5,322.6 1720.0,322.8 1721.5,322.8 1723.0,323.0 1724.5,323.1 1726.0,322.8 1727.5,322.7 1729.0,322.8 1730.5,323.0 1732.0,323.5 1733.5,323.8 1735.0,323.7 1736.5,323.9 1738.0,324.5 1739.5,325.2 1741.0,325.7 1742.5,326.0 1744.0,326.0 1745.5,326.4 1747.0,327.4 1748.5,328.3 1750.0,329.7 1751.0,330.8 1752.0,331.9 1753.0,333.0 1754.0,334.3 1755.0,335.6 1756.0,337.1 1757.0,338.7 1758.0,340.5 1759.0,342.6 1760.0,345.0 1761.0,347.5 1762.0,350.0 1763.0,352.6 1764.0,355.3 1765.0,357.9 1766.0,360.3 1767.0,363.1 1768.0,366.2 1769.0,369.5 1770.0,372.8 1771.0,376.0 1772.0,378.9 1773.0,381.1 1774.0,382.5 1775.0,383.6 1776.0,384.7 1777.0,385.6 1778.0,386.3 1779.0,386.6 1780.0,386.7 1781.0,386.8 1782.0,386.4 1783.0,385.9 1784.0,385.3 1785.0,384.6 1786.0,384.0 1787.0,383.5 1788.0,383.0 1789.0,382.5 1790.0,382.2 1791.0,382.5 1792.0,383.1 1793.0,383.8 1794.0,384.6 1795.0,385.5 1796.0,386.4 1797.0,387.3 1798.0,388.1 1799.0,389.1 1800.0,390.5 1801.0,392.2 1802.0,393.8 1803.0,395.3 1804.0,396.7 1805.0,397.5 1806.0,398.0 1807.0,398.1 1808.0,398.2 1809.0,398.3 1810.0,398.3 1811.0,398.2 1812.0,398.2 1813.0,398.3 1814.0,398.4 1815.0,398.6 1816.0,398.7 1817.0,399.1 1818.0,400.0 1819.0,401.2 1820.0,402.6 1821.0,404.2 1822.0,405.9 1823.0,408.2 1824.0,411.4 1825.0,415.1 1826.0,419.5 1827.0,424.0 1828.0,428.7 1829.0,433.4 1830.0,437.8 1831.0,442.2 1832.0,446.7 1833.0,451.5 1834.0,456.5 1835.0,461.8 1836.0,467.4 1837.0,473.8 1838.0,481.7 1839.0,490.3 1840.0,498.7 1841.0,505.8 1842.0,511.9 1843.0,517.6 1844.0,522.7 1845.0,526.8 1846.0,529.8 1847.0,531.9 1848.0,533.6 1849.0,535.1 1850.0,536.3 1851.0,537.5 1852.0,539.2 1853.0,541.5 1854.0,545.2 1855.0,550.3 1856.0,556.1 1857.0,562.3 1858.0,568.2 1859.0,573.4 1860.0,578.0 1861.0,582.3 1862.0,586.6 1863.0,590.9 1864.0,595.5 1865.0,600.5 1866.0,606.1 1867.0,611.9 1868.0,618.2 1869.0,625.0 1870.0,632.0 1871.0,639.2 1872.0,646.7 1873.0,654.2 1874.0,662.2 1875.0,670.7 1876.0,679.4 1877.0,687.9 1878.0,695.9 1879.0,702.8 1880.0,709.3 1881.0,716.2 1882.0,722.9 1883.0,728.9 1884.0,733.6 1885.0,736.4 1886.0,736.8 1887.0,735.0 1888.0,731.3 1889.0,726.2 1890.0,720.0 1891.0,713.5 1892.0,707.0 1893.0,699.3 1894.0,689.9 1895.0,679.5 1896.0,668.6 1897.0,657.4 1898.0,646.6 1899.0,636.0 1900.0,625.3 1901.0,614.4 1902.0,603.5 1903.0,592.7 1904.0,582.4 1905.0,572.5 1906.0,562.7 1907.0,552.5 1908.0,541.5 1909.0,528.7 1910.0,514.5 1911.0,500.2 1912.0,487.1 1913.0,474.8 1914.0,462.9 1915.0,452.2 1916.0,443.4 1917.0,436.5 1918.0,430.2 1919.0,424.4 1920.0,419.4 1921.0,414.8 1922.0,410.6 1923.0,407.0 1924.0,404.0 1925.0,401.3 1926.0,398.7 1927.0,396.4 1928.0,394.4 1929.0,392.6 1930.0,391.2 1931.0,390.5 1932.0,390.1 1933.0,389.6 1934.0,389.1 1935.0,388.8 1936.0,388.5 1937.0,388.2 1938.0,387.9 1939.0,387.8 1940.0,387.7 1941.0,387.7 1942.0,387.6 1943.0,387.7 1944.0,387.8 1945.0,387.9 1946.0,387.9 1947.0,387.8 1948.0,387.8 1949.0,387.9 1950.0,387.8 1951.0,387.7 1952.0,387.7 1953.0,387.5 1954.0,387.1 1955.0,386.5 1956.0,385.5 1957.0,384.6 1958.0,383.7 1959.0,382.6 1960.0,381.6 1961.0,380.6 1962.0,379.8 1963.0,379.4 1964.0,379.1 1965.0,378.6 1966.0,378.1 1967.0,377.8 1968.0,377.6 1969.0,377.3 1970.0,377.1 1971.0,376.8 1972.0,376.7 1973.0,376.6 1974.0,376.8 1975.0,377.0 1976.0,377.2 1977.0,377.4 1978.0,377.6 1979.0,377.9 1980.0,378.1 1981.0,378.5 1982.0,379.0 1983.0,379.5 1984.0,379.9 1985.0,380.6 1986.0,381.3 1987.0,382.1 1988.0,382.9 1989.0,384.0 1990.0,385.3 1991.0,386.5 1992.0,387.7 1993.0,388.9 1994.0,390.4 1995.0,392.1 1996.0,394.0 1997.0,396.0 1998.0,398.2 1999.0,400.3 2000.0,402.0 2001.0,404.2 2002.0,405.8 2003.0,407.1 2004.0,408.9 2005.0,410.4 2006.0,411.6 2007.0,412.6 2008.0,412.8 2009.0,413.4 2010.0,415.2 2011.0,416.9 2012.0,417.7 2013.0,418.2 2014.0,418.9 2015.0,419.5 2016.0,419.8 2017.0,420.6 2018.0,421.8 2019.0,423.0 2020.0,424.1 2021.0,425.3 2022.0,426.5 2023.0,428.2 2024.0,430.9 2025.0,433.2 2026.0,436.1 2027.0,439.1 2028.0,441.5 2029.0,444.8 2030.0,449.1 2031.0,453.3 2032.0,457.2 2033.0,461.6 2034.0,466.2 2035.0,470.3 2036.0,474.2 2037.0,478.5 2038.0,482.9 2039.0,486.7 2040.0,489.9 2041.0,492.0 2042.0,493.4 2043.0,495.1 2044.0,496.3 2045.0,496.4 2046.0,495.3 2047.0,493.3 2048.0,491.1 2049.0,488.6 2050.0,485.7 2051.0,482.4 2052.0,478.8 2053.0,474.7 2054.0,470.3 2055.0,466.1 2056.0,462.2 2057.0,457.5 2058.0,452.4 2059.0,447.5 2060.0,443.5 2061.0,440.6 2062.0,439.0 2063.0,438.2 2064.0,437.6 2065.0,437.3 2066.0,437.3 2067.0,437.4 2068.0,437.0 2069.0,436.6 2070.0,436.5 2071.0,436.7 2072.0,437.1 2073.0,437.8 2074.0,439.0 2075.0,441.1 2076.0,442.9 2077.0,444.2 2078.0,446.1 2079.0,448.4 2080.0,450.7 2081.0,453.8 2082.0,457.6 2083.0,461.4 2084.0,464.8 2085.0,468.3 2086.0,471.0 2087.0,472.5 2088.0,474.3 2089.0,476.8 2090.0,479.9 2091.0,483.6 2092.0,489.3 2093.0,497.2 2093.5,501.6" fill="none" stroke="#ED7D31" stroke-width="5.6" stroke-linejoin="round" stroke-linecap="round"/>
<path d="M118.0,528.4 119.5,529.1 121.0,529.3 122.5,529.5 124.0,529.1 125.5,527.4 127.0,526.4 128.5,526.6 130.0,527.7 131.5,528.6 133.0,528.4 134.5,527.5 136.0,526.6 137.5,526.8 139.0,527.8 140.5,529.2 142.0,529.6 143.5,528.8 145.0,528.3 146.5,528.4 148.0,528.3 149.5,527.4 151.0,527.1 152.5,527.1 154.0,526.8 155.5,526.7 157.0,526.8 158.5,527.1 160.0,527.2 161.5,526.8 163.0,527.2 164.5,527.0 166.0,526.2 167.5,526.0 169.0,526.6 170.5,527.1 172.0,527.1 173.5,526.9 175.0,527.7 176.5,528.7 178.0,527.9 179.5,527.1 181.0,527.4 182.5,527.4 184.0,527.5 185.5,527.4 187.0,525.9 188.5,524.9 190.0,525.8 191.5,526.7 193.0,526.6 194.5,527.1 196.0,527.2 197.5,526.9 199.0,527.8 200.5,528.5 202.0,528.3 203.5,528.0 205.0,528.5 206.5,528.5 208.0,527.2 209.5,526.4 211.0,526.2 212.5,525.0 214.0,524.1 215.5,524.8 217.0,526.1 218.5,525.9 220.0,524.2 221.5,523.8 223.0,524.9 224.5,525.7 226.0,526.2 227.5,527.0 229.0,527.4 230.5,527.0 232.0,526.2 233.5,525.0 235.0,524.9 236.5,526.2 238.0,527.1 239.5,527.3 241.0,527.3 242.5,527.5 244.0,526.6 245.5,525.0 247.0,525.3 248.5,526.8 250.0,526.6 251.5,526.1 253.0,526.8 254.5,526.7 256.0,526.5 257.5,527.2 259.0,526.9 260.5,526.4 262.0,527.2 263.5,527.1 265.0,526.3 266.5,525.7 268.0,525.0 269.5,525.8 271.0,526.8 272.5,526.6 274.0,526.7 275.5,527.1 277.0,527.8 278.5,528.3 280.0,527.8 281.5,527.5 283.0,528.7 284.5,529.4 286.0,528.4 287.5,527.3 289.0,527.2 290.5,528.5 292.0,529.4 293.5,529.2 295.0,528.0 296.5,527.5 298.0,528.6 299.5,528.7 301.0,527.2 302.5,526.9 304.0,528.0 305.5,529.5 307.0,530.3 308.5,528.9 310.0,528.0 311.5,527.9 313.0,527.3 314.5,528.5 316.0,530.3 317.5,529.9 319.0,528.8 320.5,529.0 322.0,530.5 323.5,531.4 325.0,531.1 326.5,530.9 328.0,531.5 329.5,531.7 331.0,531.7 332.5,531.7 334.0,531.2 335.5,531.5 337.0,532.7 338.5,533.2 340.0,533.6 341.5,534.8 343.0,536.0 344.5,536.4 346.0,536.8 347.5,537.5 349.0,537.7 350.5,537.6 352.0,538.6 353.5,539.6 355.0,539.5 356.5,539.9 358.0,540.4 359.5,540.4 361.0,540.9 362.5,542.0 364.0,542.8 365.5,542.8 367.0,542.6 368.5,543.3 370.0,544.5 371.5,545.3 373.0,545.7 374.5,546.2 376.0,546.6 377.5,546.5 379.0,546.2 380.5,546.3 382.0,546.1 383.5,545.6 385.0,546.8 386.5,548.5 388.0,547.8 389.5,547.2 391.0,548.6 392.5,550.1 394.0,550.3 395.5,550.2 397.0,550.4 398.5,551.0 400.0,551.9 401.5,552.1 403.0,552.1 404.5,552.8 406.0,553.1 407.5,552.9 409.0,553.2 410.5,553.3 412.0,553.6 413.5,554.3 415.0,554.2 416.5,553.7 418.0,553.4 419.5,554.3 421.0,555.5 422.5,555.5 424.0,555.6 425.5,556.1 427.0,556.6 428.5,556.8 430.0,556.4 431.5,556.7 433.0,557.2 434.5,557.5 436.0,557.6 437.5,557.9 439.0,558.8 440.5,559.4 442.0,559.1 443.5,558.8 445.0,559.2 446.5,559.6 448.0,560.4 449.5,560.9 451.0,560.4 452.5,560.0 454.0,559.9 455.5,560.1 457.0,560.8 458.5,561.7 460.0,561.5 461.5,561.5 463.0,561.8 464.5,561.5 466.0,561.9 467.5,562.5 469.0,562.1 470.5,561.6 472.0,561.4 473.5,561.6 475.0,561.3 476.5,560.4 478.0,560.6 479.5,561.2 481.0,560.6 482.5,560.1 484.0,560.3 485.5,560.8 487.0,561.5 488.5,561.8 490.0,560.6 491.5,559.5 493.0,559.6 494.5,560.0 496.0,560.8 497.5,561.2 499.0,561.1 500.5,561.3 502.0,561.2 503.5,560.1 505.0,559.2 506.5,558.8 508.0,558.8 509.5,559.3 511.0,559.7 512.5,559.7 514.0,558.8 515.5,557.9 517.0,558.6 518.5,559.5 520.0,559.2 521.5,557.9 523.0,557.4 524.5,557.5 526.0,557.0 527.5,556.4 529.0,557.3 530.5,558.4 532.0,557.4 533.5,556.4 535.0,556.5 536.5,557.1 538.0,557.7 539.5,557.6 541.0,557.1 542.5,556.6 544.0,556.1 545.5,555.3 547.0,555.4 548.5,556.2 550.0,556.1 551.5,555.7 553.0,555.3 554.5,554.8 556.0,554.4 557.5,553.9 559.0,554.1 560.5,554.6 562.0,554.7 563.5,554.5 565.0,554.3 566.5,553.8 568.0,552.7 569.5,551.7 571.0,552.2 572.5,553.0 574.0,552.8 575.5,552.2 577.0,551.5 578.5,551.4 580.0,552.0 581.5,551.9 583.0,551.5 584.5,550.8 586.0,549.4 587.5,548.5 589.0,548.5 590.5,547.8 592.0,547.7 593.5,549.0 595.0,549.3 596.5,548.7 598.0,548.1 599.5,547.8 601.0,547.7 602.5,547.4 604.0,547.2 605.5,546.4 607.0,545.5 608.5,545.8 610.0,546.0 611.5,546.2 613.0,545.9 614.5,545.1 616.0,545.2 617.5,544.9 619.0,543.9 620.5,543.5 622.0,543.0 623.5,542.2 625.0,542.4 626.5,542.8 628.0,542.1 629.5,541.4 631.0,542.0 632.5,543.0 634.0,542.8 635.5,541.6 637.0,540.9 638.5,540.9 640.0,540.7 641.5,540.2 643.0,540.3 644.5,540.7 646.0,540.1 647.5,539.1 649.0,539.5 650.5,540.1 652.0,539.9 653.5,539.4 655.0,539.5 656.5,538.8 658.0,537.8 659.5,538.4 661.0,538.1 662.5,536.3 664.0,536.0 665.5,536.8 667.0,537.2 668.5,537.6 670.0,537.4 671.5,537.2 673.0,537.3 674.5,537.2 676.0,537.2 677.5,537.1 679.0,536.9 680.5,536.9 682.0,536.3 683.5,535.4 685.0,535.3 686.5,535.5 688.0,535.0 689.5,534.5 691.0,534.9 692.5,535.5 694.0,535.9 695.5,535.9 697.0,535.1 698.5,534.5 700.0,534.5 701.5,534.4 703.0,533.9 704.5,533.7 706.0,534.6 707.5,535.5 709.0,535.0 710.5,534.0 712.0,534.4 713.5,535.0 715.0,534.6 716.5,534.1 718.0,534.1 719.5,534.4 721.0,535.0 722.5,535.1 724.0,534.3 725.5,533.3 727.0,532.5 728.5,532.3 730.0,532.3 731.5,532.0 733.0,532.1 734.5,532.5 736.0,532.2 737.5,531.8 739.0,531.6 740.5,532.3 742.0,532.6 743.5,531.9 745.0,531.6 746.5,531.7 748.0,531.7 749.5,531.5 751.0,531.0 752.5,530.8 754.0,530.5 755.5,530.1 757.0,530.3 758.5,530.8 760.0,530.8 761.5,531.0 763.0,530.8 764.5,530.4 766.0,530.5 767.5,530.4 769.0,530.8 770.5,531.0 772.0,530.0 773.5,529.2 775.0,529.9 776.5,530.8 778.0,530.0 779.5,529.3 781.0,529.8 782.5,529.8 784.0,529.3 785.5,528.5 787.0,527.9 788.5,528.3 790.0,528.3 791.5,528.0 793.0,528.1 794.5,528.7 796.0,529.6 797.5,529.9 799.0,529.4 800.5,528.6 802.0,528.3 803.5,528.9 805.0,529.5 806.5,529.5 808.0,529.1 809.5,528.8 811.0,528.7 812.5,528.1 814.0,528.2 815.5,528.5 817.0,528.1 818.5,528.4 820.0,529.0 821.5,529.0 823.0,528.5 824.5,528.0 826.0,528.0 827.5,528.4 829.0,528.7 830.5,528.7 832.0,528.9 833.5,529.4 835.0,529.0 836.5,528.1 838.0,527.8 839.5,527.9 841.0,528.3 842.5,529.0 844.0,528.7 845.5,527.9 847.0,527.4 848.5,527.2 850.0,527.9 851.5,528.8 853.0,528.7 854.5,528.2 856.0,527.5 857.5,527.1 859.0,527.7 860.5,528.3 862.0,528.4 863.5,527.9 865.0,527.5 866.5,527.6 868.0,527.8 869.5,528.3 871.0,528.3 872.5,528.0 874.0,527.8 875.5,527.7 877.0,527.8 878.5,528.3 880.0,528.6 881.5,528.2 883.0,527.7 884.5,527.3 886.0,527.1 887.5,527.6 889.0,528.1 890.5,528.1 892.0,528.0 893.5,527.5 895.0,526.7 896.5,526.6 898.0,527.9 899.5,528.7 901.0,528.1 902.5,528.2 904.0,527.9 905.5,527.4 907.0,527.4 908.5,527.1 910.0,527.3 911.5,527.8 913.0,527.4 914.5,527.1 916.0,527.4 917.5,527.1 919.0,526.9 920.5,527.0 922.0,526.9 923.5,526.5 925.0,526.7 926.5,527.5 928.0,527.0 929.5,526.1 931.0,525.9 932.5,527.0 934.0,528.0 935.5,528.7 937.0,529.0 938.5,528.5 940.0,527.6 941.5,527.5 943.0,527.7 944.5,527.4 946.0,527.0 947.5,526.7 949.0,527.3 950.5,527.9 952.0,527.5 953.5,526.7 955.0,526.4 956.5,527.2 958.0,527.8 959.5,527.8 961.0,527.2 962.5,526.4 964.0,526.3 965.5,526.9 967.0,526.9 968.5,526.5 970.0,526.6 971.5,526.8 973.0,527.0 974.5,526.7 976.0,526.3 977.5,526.5 979.0,527.0 980.5,527.3 982.0,526.8 983.5,526.2 985.0,526.5 986.5,526.9 988.0,527.0 989.5,526.8 991.0,526.5 992.5,526.7 994.0,526.6 995.5,526.3 997.0,526.5 998.5,526.6 1000.0,526.1 1001.5,526.1 1003.0,526.5 1004.5,527.0 1006.0,526.9 1007.5,526.6 1009.0,527.0 1010.5,527.7 1012.0,527.8 1013.5,527.1 1015.0,526.3 1016.5,526.4 1018.0,527.4 1019.5,527.7 1021.0,527.3 1022.5,527.5 1024.0,528.0 1025.5,527.9 1027.0,527.5 1028.5,527.6 1030.0,527.4 1031.5,527.1 1033.0,527.5 1034.5,527.6 1036.0,527.4 1037.5,528.1 1039.0,528.3 1040.5,527.7 1042.0,528.0 1043.5,528.4 1045.0,528.2 1046.5,528.0 1048.0,528.2 1049.5,528.3 1051.0,527.9 1052.5,527.4 1054.0,527.3 1055.5,527.9 1057.0,528.0 1058.5,527.4 1060.0,527.6 1061.5,528.2 1063.0,528.0 1064.5,527.3 1066.0,527.3 1067.5,528.8 1069.0,529.8 1070.5,529.5 1072.0,529.5 1073.5,529.8 1075.0,529.8 1076.5,529.9 1078.0,530.0 1079.5,530.4 1081.0,531.9 1082.5,532.3 1084.0,531.8 1085.5,531.4 1087.0,530.7 1088.5,530.7 1090.0,530.9 1091.5,530.1 1093.0,529.9 1094.5,529.9 1096.0,530.0 1097.5,530.7 1099.0,530.9 1100.5,530.6 1102.0,530.0 1103.5,528.8 1105.0,528.7 1106.5,529.8 1108.0,530.0 1109.5,529.2 1111.0,528.4 1112.5,528.5 1114.0,528.4 1115.5,527.1 1117.0,526.4 1118.5,526.4 1120.0,525.7 1121.5,525.4 1123.0,526.3 1124.5,528.1 1126.0,528.8 1127.5,527.3 1129.0,525.6 1130.5,525.8 1132.0,526.5 1133.5,526.5 1135.0,526.7 1136.5,526.5 1138.0,525.5 1139.5,525.9 1141.0,527.2 1142.5,527.7 1144.0,527.5 1145.5,527.1 1147.0,526.7 1148.5,526.6 1150.0,526.9 1151.5,526.8 1153.0,527.0 1154.5,528.3 1156.0,528.4 1157.5,527.7 1159.0,528.1 1160.5,528.5 1162.0,528.1 1163.5,527.8 1165.0,527.3 1166.5,526.0 1168.0,526.1 1169.5,527.5 1171.0,528.5 1172.5,528.6 1174.0,528.2 1175.5,528.7 1177.0,529.6 1178.5,529.3 1180.0,527.8 1181.5,527.4 1183.0,528.0 1184.5,527.8 1186.0,527.1 1187.5,526.7 1189.0,527.7 1190.5,529.2 1192.0,528.8 1193.5,527.8 1195.0,527.6 1196.5,528.1 1198.0,528.5 1199.5,528.1 1201.0,528.7 1202.5,530.0 1204.0,529.6 1205.5,528.5 1207.0,527.9 1208.5,527.7 1210.0,527.7 1211.5,527.8 1213.0,527.5 1214.5,527.2 1216.0,527.2 1217.5,527.3 1219.0,528.8 1220.5,529.8 1222.0,528.0 1223.5,527.1 1225.0,528.2 1226.5,529.1 1228.0,529.7 1229.5,529.5 1231.0,528.7 1232.5,527.4 1234.0,526.7 1235.5,527.7 1237.0,528.2 1238.5,527.2 1240.0,526.5 1241.5,527.0 1243.0,527.5 1244.5,527.7 1246.0,528.9 1247.5,529.9 1249.0,528.8 1250.5,527.4 1252.0,527.5 1253.5,527.8 1255.0,527.8 1256.5,528.6 1258.0,528.1 1259.5,527.1 1261.0,527.7 1262.5,528.6 1264.0,528.5 1265.5,527.6 1267.0,527.8 1268.5,528.6 1270.0,528.4 1271.5,527.4 1273.0,527.9 1274.5,529.5 1276.0,528.8 1277.5,527.4 1279.0,527.6 1280.5,527.5 1282.0,527.0 1283.5,527.4 1285.0,528.3 1286.5,528.2 1288.0,528.2 1289.5,527.8 1291.0,526.9 1292.5,527.4 1294.0,527.9 1295.5,527.4 1297.0,527.8 1298.5,528.4 1300.0,528.9 1301.5,529.2 1303.0,529.0 1304.5,528.6 1306.0,528.0 1307.5,527.4 1309.0,527.6 1310.5,528.1 1312.0,528.0 1313.5,528.6 1315.0,528.4 1316.5,527.5 1318.0,527.2 1319.5,527.1 1321.0,526.9 1322.5,526.8 1324.0,527.1 1325.5,526.9 1327.0,527.0 1328.5,528.3 1330.0,527.7 1331.5,526.1 1333.0,526.3 1334.5,527.4 1336.0,528.1 1337.5,527.7 1339.0,527.0 1340.5,527.1 1342.0,527.0 1343.5,526.4 1345.0,525.8 1346.5,526.0 1348.0,526.6 1349.5,527.2 1351.0,527.0 1352.5,526.5 1354.0,526.1 1355.5,526.2 1357.0,526.0 1358.5,525.4 1360.0,526.5 1361.5,527.6 1363.0,526.9 1364.5,526.4 1366.0,526.5 1367.5,526.1 1369.0,526.4 1370.5,527.1 1372.0,527.6 1373.5,528.5 1375.0,528.2 1376.5,527.1 1378.0,526.6 1379.5,526.0 1381.0,525.6 1382.5,527.0 1384.0,528.2 1385.5,527.9 1387.0,527.5 1388.5,527.9 1390.0,528.1 1391.5,527.7 1393.0,528.1 1394.5,528.6 1396.0,528.2 1397.5,527.5 1399.0,527.6 1400.5,527.3 1402.0,526.7 1403.5,527.3 1405.0,527.0 1406.5,525.7 1408.0,526.6 1409.5,528.7 1411.0,529.3 1412.5,529.0 1414.0,528.9 1415.5,529.4 1417.0,529.1 1418.5,528.5 1420.0,529.1 1421.5,529.7 1423.0,529.9 1424.5,529.5 1426.0,529.0 1427.5,529.1 1429.0,529.5 1430.5,529.7 1432.0,529.6 1433.5,529.6 1435.0,529.8 1436.5,530.1 1438.0,530.2 1439.5,530.3 1441.0,531.2 1442.5,532.2 1444.0,532.8 1445.5,533.4 1447.0,533.6 1448.5,533.8 1450.0,534.4 1451.5,534.9 1453.0,535.3 1454.5,536.0 1456.0,536.9 1457.5,537.8 1459.0,538.5 1460.5,539.1 1462.0,539.7 1463.5,540.7 1465.0,541.9 1466.5,543.0 1468.0,544.3 1469.5,545.8 1471.0,546.8 1472.5,547.6 1474.0,548.8 1475.5,550.0 1477.0,550.7 1478.5,551.2 1480.0,552.4 1481.5,553.4 1483.0,553.5 1484.5,553.3 1486.0,552.8 1487.5,552.1 1489.0,551.2 1490.5,550.2 1492.0,549.5 1493.5,548.5 1495.0,547.5 1496.5,546.3 1498.0,545.0 1499.5,544.1 1501.0,543.7 1502.5,543.0 1504.0,542.2 1505.5,541.1 1507.0,540.2 1508.5,539.7 1510.0,539.0 1511.5,538.4 1513.0,537.5 1514.5,536.3 1516.0,535.5 1517.5,535.3 1519.0,535.5 1520.5,535.5 1522.0,535.2 1523.5,534.8 1525.0,534.3 1526.5,534.0 1528.0,534.1 1529.5,534.1 1531.0,534.0 1532.5,534.1 1534.0,534.3 1535.5,534.0 1537.0,533.8 1538.5,533.8 1540.0,533.6 1541.5,533.8 1543.0,534.1 1544.5,534.0 1546.0,533.6 1547.5,533.7 1549.0,534.1 1550.5,534.2 1552.0,534.2 1553.5,534.1 1555.0,533.8 1556.5,533.7 1558.0,533.7 1559.5,533.9 1561.0,534.1 1562.5,534.2 1564.0,533.9 1565.5,533.2 1567.0,532.8 1568.5,532.8 1570.0,533.0 1571.5,533.2 1573.0,532.8 1574.5,532.5 1576.0,533.0 1577.5,533.4 1579.0,533.6 1580.5,533.6 1582.0,533.2 1583.5,532.8 1585.0,532.7 1586.5,532.5 1588.0,532.8 1589.5,533.4 1591.0,533.7 1592.5,533.4 1594.0,533.0 1595.5,532.8 1597.0,532.6 1598.5,532.4 1600.0,532.7 1601.5,533.0 1603.0,532.8 1604.5,532.5 1606.0,532.4 1607.5,532.8 1609.0,532.6 1610.5,532.0 1612.0,532.3 1613.5,532.9 1615.0,533.0 1616.5,532.7 1618.0,532.8 1619.5,533.1 1621.0,533.0 1622.5,532.6 1624.0,532.6 1625.5,532.6 1627.0,532.6 1628.5,532.7 1630.0,532.7 1631.5,532.9 1633.0,533.2 1634.5,533.1 1636.0,532.9 1637.5,532.8 1639.0,532.8 1640.5,533.0 1642.0,533.0 1643.5,533.1 1645.0,533.6 1646.5,533.6 1648.0,533.0 1649.5,532.7 1651.0,532.7 1652.5,532.9 1654.0,533.0 1655.5,532.7 1657.0,532.5 1658.5,533.0 1660.0,533.5 1661.5,533.5 1663.0,533.1 1664.5,532.7 1666.0,532.7 1667.5,532.5 1669.0,532.3 1670.5,532.6 1672.0,533.0 1673.5,533.1 1675.0,532.8 1676.5,532.5 1678.0,532.6 1679.5,533.0 1681.0,533.1 1682.5,533.1 1684.0,533.0 1685.5,533.1 1687.0,533.1 1688.5,532.9 1690.0,533.1 1691.5,533.5 1693.0,533.4 1694.5,533.1 1696.0,532.9 1697.5,532.9 1699.0,533.5 1700.5,533.6 1702.0,533.3 1703.5,532.9 1705.0,532.8 1706.5,533.3 1708.0,533.6 1709.5,533.6 1711.0,533.7 1712.5,533.6 1714.0,533.3 1715.5,533.4 1717.0,533.7 1718.5,534.0 1720.0,534.0 1721.5,533.9 1723.0,534.0 1724.5,534.2 1726.0,534.7 1727.5,534.6 1729.0,534.3 1730.5,534.7 1732.0,535.1 1733.5,535.4 1735.0,535.4 1736.5,535.2 1738.0,535.4 1739.5,535.7 1741.0,536.0 1742.5,536.1 1744.0,535.7 1745.5,535.6 1747.0,535.9 1748.5,535.9 1750.0,536.6 1751.0,537.0 1752.0,537.3 1753.0,537.5 1754.0,537.8 1755.0,538.2 1756.0,538.3 1757.0,538.3 1758.0,538.6 1759.0,538.9 1760.0,539.2 1761.0,539.6 1762.0,540.1 1763.0,540.5 1764.0,541.0 1765.0,541.4 1766.0,541.9 1767.0,542.4 1768.0,543.1 1769.0,543.8 1770.0,544.5 1771.0,545.1 1772.0,545.9 1773.0,546.8 1774.0,547.7 1775.0,548.6 1776.0,549.5 1777.0,550.7 1778.0,552.0 1779.0,553.1 1780.0,554.4 1781.0,555.8 1782.0,557.1 1783.0,558.4 1784.0,560.1 1785.0,562.0 1786.0,564.0 1787.0,566.2 1788.0,568.4 1789.0,570.7 1790.0,572.9 1791.0,575.2 1792.0,577.5 1793.0,579.8 1794.0,582.1 1795.0,584.6 1796.0,587.3 1797.0,590.1 1798.0,592.9 1799.0,595.5 1800.0,597.8 1801.0,600.0 1802.0,601.9 1803.0,603.4 1804.0,604.7 1805.0,606.1 1806.0,607.3 1807.0,608.3 1808.0,609.3 1809.0,610.3 1810.0,611.2 1811.0,612.2 1812.0,613.3 1813.0,614.3 1814.0,615.4 1815.0,616.5 1816.0,617.6 1817.0,618.7 1818.0,619.9 1819.0,621.4 1820.0,623.1 1821.0,625.7 1822.0,629.3 1823.0,633.7 1824.0,638.8 1825.0,644.2 1826.0,649.5 1827.0,654.6 1828.0,659.3 1829.0,664.3 1830.0,669.5 1831.0,674.6 1832.0,679.6 1833.0,684.4 1834.0,688.9 1835.0,693.0 1836.0,696.9 1837.0,700.8 1838.0,704.5 1839.0,708.3 1840.0,712.4 1841.0,716.6 1842.0,721.1 1843.0,726.1 1844.0,731.4 1845.0,736.9 1846.0,742.6 1847.0,748.7 1848.0,755.2 1849.0,762.3 1850.0,769.8 1851.0,777.5 1852.0,785.3 1853.0,793.1 1854.0,800.6 1855.0,808.2 1856.0,816.3 1857.0,824.4 1858.0,832.6 1859.0,840.4 1860.0,847.4 1861.0,853.5 1862.0,859.1 1863.0,864.4 1864.0,869.4 1865.0,874.1 1866.0,878.6 1867.0,882.8 1868.0,886.8 1869.0,890.6 1870.0,894.5 1871.0,898.3 1872.0,902.2 1873.0,906.0 1874.0,909.6 1875.0,912.6 1876.0,915.0 1877.0,916.5 1878.0,917.0 1879.0,916.7 1880.0,915.4 1881.0,913.4 1882.0,911.0 1883.0,908.4 1884.0,905.4 1885.0,902.0 1886.0,897.9 1887.0,892.5 1888.0,886.0 1889.0,878.7 1890.0,870.8 1891.0,862.3 1892.0,853.5 1893.0,843.2 1894.0,831.3 1895.0,818.7 1896.0,805.8 1897.0,792.7 1898.0,779.1 1899.0,764.9 1900.0,750.1 1901.0,733.5 1902.0,715.9 1903.0,699.9 1904.0,687.0 1905.0,675.4 1906.0,664.9 1907.0,655.1 1908.0,646.0 1909.0,637.9 1910.0,630.2 1911.0,622.7 1912.0,615.8 1913.0,609.8 1914.0,605.4 1915.0,602.6 1916.0,600.7 1917.0,599.1 1918.0,597.8 1919.0,596.5 1920.0,595.0 1921.0,593.1 1922.0,591.0 1923.0,588.8 1924.0,586.6 1925.0,584.8 1926.0,583.8 1927.0,583.5 1928.0,583.1 1929.0,582.6 1930.0,582.3 1931.0,582.0 1932.0,581.8 1933.0,581.8 1934.0,581.8 1935.0,581.7 1936.0,581.6 1937.0,581.6 1938.0,581.7 1939.0,581.9 1940.0,581.9 1941.0,582.0 1942.0,582.1 1943.0,582.3 1944.0,582.4 1945.0,582.3 1946.0,582.3 1947.0,582.4 1948.0,582.3 1949.0,582.0 1950.0,581.7 1951.0,581.5 1952.0,581.3 1953.0,580.9 1954.0,580.4 1955.0,579.9 1956.0,579.0 1957.0,578.1 1958.0,577.2 1959.0,576.3 1960.0,575.6 1961.0,574.8 1962.0,574.0 1963.0,573.3 1964.0,572.6 1965.0,571.9 1966.0,571.3 1967.0,571.0 1968.0,570.9 1969.0,571.0 1970.0,571.0 1971.0,571.0 1972.0,571.2 1973.0,571.4 1974.0,571.6 1975.0,571.8 1976.0,571.9 1977.0,572.0 1978.0,572.3 1979.0,572.6 1980.0,573.0 1981.0,573.4 1982.0,573.7 1983.0,573.9 1984.0,574.3 1985.0,574.8 1986.0,575.4 1987.0,576.0 1988.0,576.9 1989.0,577.9 1990.0,578.8 1991.0,579.7 1992.0,580.6 1993.0,581.7 1994.0,583.0 1995.0,584.4 1996.0,585.6 1997.0,586.7 1998.0,587.9 1999.0,589.1 2000.0,590.3 2001.0,591.2 2002.0,592.2 2003.0,593.7 2004.0,595.5 2005.0,597.1 2006.0,599.0 2007.0,600.7 2008.0,602.0 2009.0,603.8 2010.0,605.5 2011.0,606.6 2012.0,607.3 2013.0,607.9 2014.0,608.7 2015.0,609.6 2016.0,610.4 2017.0,611.2 2018.0,612.0 2019.0,612.4 2020.0,612.9 2021.0,613.6 2022.0,614.5 2023.0,615.5 2024.0,616.4 2025.0,616.5 2026.0,617.0 2027.0,618.4 2028.0,619.6 2029.0,620.4 2030.0,621.9 2031.0,623.2 2032.0,623.5 2033.0,624.2 2034.0,624.7 2035.0,625.0 2036.0,625.9 2037.0,627.1 2038.0,627.5 2039.0,627.7 2040.0,628.0 2041.0,628.9 2042.0,630.1 2043.0,630.9 2044.0,631.7 2045.0,632.8 2046.0,634.4 2047.0,636.1 2048.0,637.1 2049.0,638.2 2050.0,640.2 2051.0,642.5 2052.0,643.9 2053.0,644.9 2054.0,645.8 2055.0,646.2 2056.0,646.7 2057.0,646.9 2058.0,646.7 2059.0,646.3 2060.0,645.4 2061.0,644.2 2062.0,642.7 2063.0,640.8 2064.0,639.3 2065.0,638.0 2066.0,636.7 2067.0,635.2 2068.0,633.7 2069.0,632.7 2070.0,631.8 2071.0,630.3 2072.0,629.0 2073.0,628.5 2074.0,628.5 2075.0,628.7 2076.0,628.8 2077.0,629.0 2078.0,629.2 2079.0,630.0 2080.0,631.7 2081.0,633.5 2082.0,634.8 2083.0,635.5 2084.0,636.4 2085.0,637.3 2086.0,638.0 2087.0,639.1 2088.0,641.1 2089.0,643.5 2090.0,646.0 2091.0,648.5 2092.0,652.3 2093.0,657.1 2093.5,659.6" fill="none" stroke="#A5A5A5" stroke-width="5.6" stroke-linejoin="round" stroke-linecap="round"/>
<path d="M118.0,732.7 119.5,731.1 121.0,732.1 122.5,733.4 124.0,733.7 125.5,734.0 127.0,734.1 128.5,733.0 130.0,732.3 131.5,732.8 133.0,732.8 134.5,732.2 136.0,732.3 137.5,733.1 139.0,733.0 140.5,732.0 142.0,731.1 143.5,731.3 145.0,732.8 146.5,733.2 148.0,733.3 149.5,733.8 151.0,734.5 152.5,734.3 154.0,733.6 155.5,733.0 157.0,732.4 158.5,732.1 160.0,731.5 161.5,732.1 163.0,733.0 164.5,732.4 166.0,731.3 167.5,730.9 169.0,731.6 170.5,732.8 172.0,732.7 173.5,731.3 175.0,730.7 176.5,731.0 178.0,730.3 179.5,730.1 181.0,730.8 182.5,731.6 184.0,731.8 185.5,731.7 187.0,731.2 188.5,730.7 190.0,731.6 191.5,732.2 193.0,731.5 194.5,731.1 196.0,731.2 197.5,731.6 199.0,731.8 200.5,731.6 202.0,731.7 203.5,731.6 205.0,730.5 206.5,729.6 208.0,729.8 209.5,730.2 211.0,729.6 212.5,729.6 214.0,730.8 215.5,731.5 217.0,729.9 218.5,727.7 220.0,727.7 221.5,728.3 223.0,728.4 224.5,729.9 226.0,731.2 227.5,730.2 229.0,729.6 230.5,730.4 232.0,730.5 233.5,730.0 235.0,729.7 236.5,730.1 238.0,729.8 239.5,728.3 241.0,728.7 242.5,730.9 244.0,731.3 245.5,730.0 247.0,729.5 248.5,729.6 250.0,729.5 251.5,730.6 253.0,732.0 254.5,732.1 256.0,731.8 257.5,731.4 259.0,731.8 260.5,731.8 262.0,730.5 263.5,730.4 265.0,731.2 266.5,732.2 268.0,733.1 269.5,732.1 271.0,730.6 272.5,730.5 274.0,730.5 275.5,731.5 277.0,732.7 278.5,732.0 280.0,731.5 281.5,731.9 283.0,732.7 284.5,732.9 286.0,732.5 287.5,732.8 289.0,732.9 290.5,731.9 292.0,731.1 293.5,732.0 295.0,733.2 296.5,732.7 298.0,731.8 299.5,733.2 301.0,734.9 302.5,734.4 304.0,734.1 305.5,734.1 307.0,733.5 308.5,733.0 310.0,733.2 311.5,732.8 313.0,733.4 314.5,736.0 316.0,736.5 317.5,735.3 319.0,734.7 320.5,735.0 322.0,736.0 323.5,736.3 325.0,735.9 326.5,735.6 328.0,737.2 329.5,738.6 331.0,737.8 332.5,737.8 334.0,738.3 335.5,739.0 337.0,739.3 338.5,739.0 340.0,739.1 341.5,739.7 343.0,740.0 344.5,740.3 346.0,741.1 347.5,741.5 349.0,741.5 350.5,742.8 352.0,744.5 353.5,744.4 355.0,744.6 356.5,745.3 358.0,744.3 359.5,743.0 361.0,743.3 362.5,744.6 364.0,746.2 365.5,746.6 367.0,746.5 368.5,747.2 370.0,747.7 371.5,748.3 373.0,749.2 374.5,749.6 376.0,749.8 377.5,749.9 379.0,750.0 380.5,751.0 382.0,752.1 383.5,753.1 385.0,754.0 386.5,753.9 388.0,753.9 389.5,754.3 391.0,753.8 392.5,752.7 394.0,753.1 395.5,754.9 397.0,755.8 398.5,755.9 400.0,755.8 401.5,756.6 403.0,757.5 404.5,757.1 406.0,756.5 407.5,757.2 409.0,758.0 410.5,757.2 412.0,756.1 413.5,756.5 415.0,757.9 416.5,759.4 418.0,759.6 419.5,759.2 421.0,759.3 422.5,760.0 424.0,760.5 425.5,760.6 427.0,760.8 428.5,761.5 430.0,761.9 431.5,761.3 433.0,761.5 434.5,762.3 436.0,762.9 437.5,763.3 439.0,763.7 440.5,764.1 442.0,764.5 443.5,764.5 445.0,764.3 446.5,764.9 448.0,765.3 449.5,765.9 451.0,766.8 452.5,767.3 454.0,766.8 455.5,765.3 457.0,765.6 458.5,766.6 460.0,766.4 461.5,767.0 463.0,768.1 464.5,767.8 466.0,767.1 467.5,767.5 469.0,767.9 470.5,767.6 472.0,767.4 473.5,767.1 475.0,766.7 476.5,766.8 478.0,767.0 479.5,767.4 481.0,767.4 482.5,767.1 484.0,767.5 485.5,767.6 487.0,767.5 488.5,767.5 490.0,767.1 491.5,766.9 493.0,767.1 494.5,767.4 496.0,767.0 497.5,766.0 499.0,765.7 500.5,765.7 502.0,766.2 503.5,766.8 505.0,767.1 506.5,767.3 508.0,766.4 509.5,765.0 511.0,765.7 512.5,767.5 514.0,767.7 515.5,766.5 517.0,766.1 518.5,766.4 520.0,765.7 521.5,765.7 523.0,766.1 524.5,765.7 526.0,765.1 527.5,765.4 529.0,765.9 530.5,765.1 532.0,764.4 533.5,764.8 535.0,765.0 536.5,764.6 538.0,764.4 539.5,764.6 541.0,764.2 542.5,763.7 544.0,763.9 545.5,764.0 547.0,763.4 548.5,762.6 550.0,762.8 551.5,763.6 553.0,763.9 554.5,763.5 556.0,763.3 557.5,763.4 559.0,763.7 560.5,763.7 562.0,762.8 563.5,762.0 565.0,761.5 566.5,760.8 568.0,760.9 569.5,761.1 571.0,761.1 572.5,761.2 574.0,760.5 575.5,759.7 577.0,759.5 578.5,759.5 580.0,759.7 581.5,759.6 583.0,759.2 584.5,759.6 586.0,759.7 587.5,759.1 589.0,758.4 590.5,757.5 592.0,757.5 593.5,757.6 595.0,756.7 596.5,756.2 598.0,756.6 599.5,757.3 601.0,757.1 602.5,756.0 604.0,754.9 605.5,754.3 607.0,754.9 608.5,755.4 610.0,754.5 611.5,753.2 613.0,753.1 614.5,752.5 616.0,751.3 617.5,751.5 619.0,752.2 620.5,752.3 622.0,751.7 623.5,751.0 625.0,750.9 626.5,750.4 628.0,749.5 629.5,749.2 631.0,749.4 632.5,749.9 634.0,749.9 635.5,749.4 637.0,749.3 638.5,749.2 640.0,748.5 641.5,747.4 643.0,746.8 644.5,747.2 646.0,747.6 647.5,747.5 649.0,747.3 650.5,747.2 652.0,747.1 653.5,746.4 655.0,745.9 656.5,746.0 658.0,746.3 659.5,746.4 661.0,745.7 662.5,745.1 664.0,745.2 665.5,745.6 667.0,745.6 668.5,744.7 670.0,743.5 671.5,743.2 673.0,744.0 674.5,744.7 676.0,744.2 677.5,743.0 679.0,742.5 680.5,742.2 682.0,742.2 683.5,742.9 685.0,743.2 686.5,742.6 688.0,742.1 689.5,742.5 691.0,743.7 692.5,743.5 694.0,742.0 695.5,741.5 697.0,742.0 698.5,742.5 700.0,742.7 701.5,742.3 703.0,741.4 704.5,741.1 706.0,740.8 707.5,740.5 709.0,740.4 710.5,740.9 712.0,741.8 713.5,741.2 715.0,740.0 716.5,740.3 718.0,740.9 719.5,740.5 721.0,740.4 722.5,740.6 724.0,740.6 725.5,740.1 727.0,739.3 728.5,738.4 730.0,738.0 731.5,738.5 733.0,738.7 734.5,738.4 736.0,738.0 737.5,738.2 739.0,738.9 740.5,738.1 742.0,737.1 743.5,737.1 745.0,737.6 746.5,737.2 748.0,736.5 749.5,736.8 751.0,736.9 752.5,737.1 754.0,737.7 755.5,737.4 757.0,736.6 758.5,737.0 760.0,738.0 761.5,738.0 763.0,737.3 764.5,736.9 766.0,737.0 767.5,736.6 769.0,735.8 770.5,735.6 772.0,736.2 773.5,736.6 775.0,736.5 776.5,736.3 778.0,736.3 779.5,736.2 781.0,736.4 782.5,736.1 784.0,735.1 785.5,734.8 787.0,735.0 788.5,735.4 790.0,735.5 791.5,734.7 793.0,734.2 794.5,735.3 796.0,736.5 797.5,736.2 799.0,735.0 800.5,734.7 802.0,734.8 803.5,734.6 805.0,734.5 806.5,734.3 808.0,734.0 809.5,734.0 811.0,734.4 812.5,734.4 814.0,734.1 815.5,734.1 817.0,733.9 818.5,733.6 820.0,734.8 821.5,736.6 823.0,736.5 824.5,735.7 826.0,735.1 827.5,734.5 829.0,734.4 830.5,734.6 832.0,734.8 833.5,735.1 835.0,734.4 836.5,732.9 838.0,733.3 839.5,734.3 841.0,734.1 842.5,734.4 844.0,734.9 845.5,735.0 847.0,735.0 848.5,734.6 850.0,733.9 851.5,733.0 853.0,732.6 854.5,733.3 856.0,733.8 857.5,733.4 859.0,733.3 860.5,733.9 862.0,734.1 863.5,733.7 865.0,733.9 866.5,734.9 868.0,735.1 869.5,734.3 871.0,733.9 872.5,734.3 874.0,735.4 875.5,735.6 877.0,734.4 878.5,733.0 880.0,733.4 881.5,734.4 883.0,734.1 884.5,734.0 886.0,734.5 887.5,734.2 889.0,733.1 890.5,732.6 892.0,733.4 893.5,734.2 895.0,733.9 896.5,732.9 898.0,732.8 899.5,733.0 901.0,732.9 902.5,733.4 904.0,733.9 905.5,733.4 907.0,733.0 908.5,733.5 910.0,734.1 911.5,734.1 913.0,733.6 914.5,733.0 916.0,733.5 917.5,733.8 919.0,733.4 920.5,733.2 922.0,733.4 923.5,733.8 925.0,733.4 926.5,733.0 928.0,733.3 929.5,733.7 931.0,733.5 932.5,733.0 934.0,733.0 935.5,733.9 937.0,734.6 938.5,733.8 940.0,732.9 941.5,733.0 943.0,732.7 944.5,732.2 946.0,732.5 947.5,733.0 949.0,733.7 950.5,734.3 952.0,734.3 953.5,733.8 955.0,733.4 956.5,733.3 958.0,733.7 959.5,733.8 961.0,733.2 962.5,733.3 964.0,734.0 965.5,733.8 967.0,733.3 968.5,733.3 970.0,733.5 971.5,733.6 973.0,733.8 974.5,733.6 976.0,733.2 977.5,732.7 979.0,732.3 980.5,733.0 982.0,733.8 983.5,733.5 985.0,733.0 986.5,732.9 988.0,733.0 989.5,733.7 991.0,734.7 992.5,734.9 994.0,734.5 995.5,734.0 997.0,733.3 998.5,732.9 1000.0,733.1 1001.5,733.5 1003.0,733.8 1004.5,733.7 1006.0,733.5 1007.5,734.3 1009.0,734.8 1010.5,734.2 1012.0,734.1 1013.5,734.2 1015.0,733.7 1016.5,733.5 1018.0,733.7 1019.5,734.1 1021.0,734.4 1022.5,734.5 1024.0,734.1 1025.5,733.8 1027.0,733.9 1028.5,733.7 1030.0,733.7 1031.5,734.1 1033.0,733.8 1034.5,733.5 1036.0,733.6 1037.5,733.4 1039.0,733.9 1040.5,734.4 1042.0,734.3 1043.5,734.9 1045.0,735.7 1046.5,735.8 1048.0,735.3 1049.5,734.9 1051.0,734.4 1052.5,734.3 1054.0,734.4 1055.5,734.6 1057.0,734.5 1058.5,734.7 1060.0,735.0 1061.5,734.7 1063.0,734.9 1064.5,735.3 1066.0,734.9 1067.5,734.5 1069.0,735.1 1070.5,735.9 1072.0,735.5 1073.5,735.0 1075.0,735.1 1076.5,734.6 1078.0,734.2 1079.5,734.9 1081.0,735.8 1082.5,735.8 1084.0,735.0 1085.5,734.7 1087.0,735.3 1088.5,735.5 1090.0,735.7 1091.5,735.9 1093.0,735.6 1094.5,735.1 1096.0,734.9 1097.5,734.9 1099.0,735.1 1100.5,735.1 1102.0,734.7 1103.5,733.7 1105.0,733.9 1106.5,734.7 1108.0,734.7 1109.5,734.4 1111.0,734.7 1112.5,736.1 1114.0,736.5 1115.5,735.8 1117.0,735.4 1118.5,734.9 1120.0,734.4 1121.5,734.3 1123.0,735.2 1124.5,735.8 1126.0,736.1 1127.5,736.7 1129.0,736.5 1130.5,735.5 1132.0,735.1 1133.5,735.2 1135.0,735.1 1136.5,735.7 1138.0,737.0 1139.5,737.0 1141.0,736.5 1142.5,735.8 1144.0,735.0 1145.5,734.7 1147.0,734.4 1148.5,734.9 1150.0,736.0 1151.5,736.5 1153.0,736.6 1154.5,736.3 1156.0,736.0 1157.5,736.4 1159.0,737.4 1160.5,736.8 1162.0,735.4 1163.5,735.9 1165.0,736.8 1166.5,736.3 1168.0,735.8 1169.5,735.1 1171.0,734.9 1172.5,735.4 1174.0,735.6 1175.5,735.1 1177.0,734.3 1178.5,734.4 1180.0,735.1 1181.5,735.6 1183.0,735.6 1184.5,735.4 1186.0,736.0 1187.5,736.3 1189.0,736.1 1190.5,736.0 1192.0,735.6 1193.5,735.3 1195.0,734.9 1196.5,734.4 1198.0,735.1 1199.5,735.3 1201.0,734.6 1202.5,734.9 1204.0,734.8 1205.5,734.7 1207.0,735.1 1208.5,735.7 1210.0,736.0 1211.5,736.0 1213.0,736.1 1214.5,735.7 1216.0,735.5 1217.5,735.3 1219.0,734.2 1220.5,733.8 1222.0,734.7 1223.5,735.7 1225.0,735.5 1226.5,735.5 1228.0,735.9 1229.5,735.1 1231.0,734.7 1232.5,735.9 1234.0,735.8 1235.5,734.9 1237.0,734.7 1238.5,734.3 1240.0,735.3 1241.5,737.0 1243.0,737.0 1244.5,736.2 1246.0,735.4 1247.5,734.7 1249.0,735.1 1250.5,735.1 1252.0,734.5 1253.5,735.0 1255.0,735.6 1256.5,735.5 1258.0,735.3 1259.5,734.6 1261.0,734.2 1262.5,734.0 1264.0,733.4 1265.5,734.2 1267.0,736.2 1268.5,736.9 1270.0,735.1 1271.5,734.0 1273.0,735.4 1274.5,735.9 1276.0,735.4 1277.5,735.7 1279.0,735.3 1280.5,733.9 1282.0,734.1 1283.5,734.5 1285.0,734.0 1286.5,734.8 1288.0,735.9 1289.5,736.5 1291.0,737.2 1292.5,737.2 1294.0,737.0 1295.5,736.4 1297.0,736.1 1298.5,736.0 1300.0,735.2 1301.5,734.4 1303.0,734.1 1304.5,733.7 1306.0,734.9 1307.5,736.5 1309.0,736.1 1310.5,734.9 1312.0,733.9 1313.5,733.3 1315.0,733.7 1316.5,734.2 1318.0,734.7 1319.5,734.9 1321.0,734.2 1322.5,734.0 1324.0,735.4 1325.5,735.7 1327.0,734.9 1328.5,734.7 1330.0,735.4 1331.5,736.0 1333.0,735.2 1334.5,733.7 1336.0,732.6 1337.5,732.7 1339.0,734.3 1340.5,735.8 1342.0,735.9 1343.5,735.6 1345.0,735.1 1346.5,734.6 1348.0,734.8 1349.5,734.6 1351.0,733.7 1352.5,733.8 1354.0,734.2 1355.5,733.8 1357.0,734.2 1358.5,734.7 1360.0,734.8 1361.5,735.0 1363.0,735.2 1364.5,734.6 1366.0,733.9 1367.5,733.6 1369.0,733.7 1370.5,735.0 1372.0,736.0 1373.5,735.7 1375.0,735.7 1376.5,735.6 1378.0,734.9 1379.5,735.1 1381.0,735.2 1382.5,735.1 1384.0,735.0 1385.5,734.6 1387.0,734.9 1388.5,735.1 1390.0,734.5 1391.5,735.0 1393.0,736.0 1394.5,736.0 1396.0,735.5 1397.5,735.7 1399.0,735.7 1400.5,735.3 1402.0,735.5 1403.5,735.8 1405.0,735.6 1406.5,735.8 1408.0,736.4 1409.5,736.1 1411.0,735.7 1412.5,736.1 1414.0,736.8 1415.5,736.9 1417.0,736.1 1418.5,735.6 1420.0,736.1 1421.5,736.2 1423.0,736.1 1424.5,735.9 1426.0,735.7 1427.5,736.0 1429.0,736.5 1430.5,736.8 1432.0,736.8 1433.5,736.8 1435.0,737.1 1436.5,737.7 1438.0,738.4 1439.5,738.5 1441.0,738.2 1442.5,738.3 1444.0,739.1 1445.5,740.0 1447.0,741.1 1448.5,742.0 1450.0,742.1 1451.5,742.2 1453.0,742.9 1454.5,743.7 1456.0,744.8 1457.5,745.7 1459.0,746.0 1460.5,746.3 1462.0,747.3 1463.5,748.3 1465.0,748.7 1466.5,749.5 1468.0,750.8 1469.5,752.0 1471.0,753.0 1472.5,754.1 1474.0,754.8 1475.5,755.5 1477.0,756.3 1478.5,756.9 1480.0,757.5 1481.5,758.2 1483.0,758.6 1484.5,758.5 1486.0,758.1 1487.5,757.4 1489.0,757.0 1490.5,756.6 1492.0,755.8 1493.5,754.8 1495.0,753.7 1496.5,752.7 1498.0,752.0 1499.5,751.3 1501.0,750.6 1502.5,749.9 1504.0,749.0 1505.5,747.8 1507.0,746.3 1508.5,745.3 1510.0,744.9 1511.5,744.4 1513.0,744.1 1514.5,743.9 1516.0,743.6 1517.5,743.7 1519.0,744.0 1520.5,743.9 1522.0,743.7 1523.5,743.2 1525.0,742.5 1526.5,742.2 1528.0,742.2 1529.5,742.0 1531.0,742.0 1532.5,741.6 1534.0,741.4 1535.5,741.6 1537.0,741.7 1538.5,741.7 1540.0,741.2 1541.5,741.0 1543.0,741.3 1544.5,741.2 1546.0,741.0 1547.5,741.3 1549.0,741.5 1550.5,741.3 1552.0,741.0 1553.5,741.1 1555.0,741.4 1556.5,741.6 1558.0,741.5 1559.5,741.3 1561.0,741.5 1562.5,741.6 1564.0,741.4 1565.5,741.1 1567.0,741.2 1568.5,741.6 1570.0,741.5 1571.5,741.2 1573.0,741.6 1574.5,742.0 1576.0,741.8 1577.5,741.7 1579.0,741.6 1580.5,741.4 1582.0,741.3 1583.5,741.4 1585.0,741.3 1586.5,741.4 1588.0,741.7 1589.5,741.5 1591.0,741.2 1592.5,741.4 1594.0,741.6 1595.5,741.7 1597.0,741.8 1598.5,741.5 1600.0,741.4 1601.5,741.7 1603.0,741.8 1604.5,741.3 1606.0,741.0 1607.5,741.2 1609.0,741.4 1610.5,741.4 1612.0,741.4 1613.5,741.5 1615.0,741.6 1616.5,741.3 1618.0,741.3 1619.5,741.6 1621.0,741.9 1622.5,741.9 1624.0,741.6 1625.5,741.6 1627.0,742.0 1628.5,742.0 1630.0,741.5 1631.5,741.3 1633.0,741.6 1634.5,741.9 1636.0,742.0 1637.5,741.9 1639.0,741.7 1640.5,741.6 1642.0,741.9 1643.5,742.0 1645.0,741.7 1646.5,741.6 1648.0,741.8 1649.5,741.8 1651.0,741.7 1652.5,741.8 1654.0,741.9 1655.5,741.7 1657.0,741.6 1658.5,741.8 1660.0,741.5 1661.5,741.4 1663.0,741.6 1664.5,741.7 1666.0,741.8 1667.5,741.8 1669.0,741.8 1670.5,741.6 1672.0,741.6 1673.5,741.9 1675.0,742.2 1676.5,742.3 1678.0,742.2 1679.5,742.1 1681.0,742.5 1682.5,742.8 1684.0,742.5 1685.5,742.0 1687.0,741.9 1688.5,741.9 1690.0,741.9 1691.5,742.1 1693.0,742.1 1694.5,742.0 1696.0,742.1 1697.5,741.8 1699.0,741.6 1700.5,742.1 1702.0,742.4 1703.5,742.4 1705.0,742.2 1706.5,742.0 1708.0,742.2 1709.5,742.7 1711.0,742.7 1712.5,742.3 1714.0,742.2 1715.5,742.3 1717.0,742.5 1718.5,742.5 1720.0,742.5 1721.5,742.4 1723.0,742.5 1724.5,743.0 1726.0,743.2 1727.5,743.1 1729.0,742.9 1730.5,743.1 1732.0,743.1 1733.5,742.6 1735.0,742.3 1736.5,742.8 1738.0,743.4 1739.5,743.7 1741.0,743.8 1742.5,743.8 1744.0,743.7 1745.5,743.5 1747.0,743.6 1748.5,743.9 1750.0,744.3 1751.0,744.5 1752.0,744.7 1753.0,744.8 1754.0,745.0 1755.0,745.3 1756.0,745.6 1757.0,745.9 1758.0,746.1 1759.0,746.5 1760.0,746.9 1761.0,747.1 1762.0,747.4 1763.0,747.6 1764.0,748.0 1765.0,748.5 1766.0,749.1 1767.0,749.8 1768.0,750.5 1769.0,751.2 1770.0,751.9 1771.0,752.7 1772.0,753.5 1773.0,754.2 1774.0,755.3 1775.0,756.3 1776.0,757.3 1777.0,758.4 1778.0,759.6 1779.0,760.8 1780.0,762.2 1781.0,763.6 1782.0,765.1 1783.0,766.9 1784.0,768.7 1785.0,770.5 1786.0,772.2 1787.0,774.1 1788.0,776.0 1789.0,777.9 1790.0,779.8 1791.0,781.8 1792.0,784.0 1793.0,786.1 1794.0,788.1 1795.0,790.1 1796.0,792.1 1797.0,794.1 1798.0,796.2 1799.0,798.1 1800.0,799.7 1801.0,801.3 1802.0,802.9 1803.0,804.3 1804.0,805.7 1805.0,807.0 1806.0,808.1 1807.0,809.3 1808.0,810.6 1809.0,811.9 1810.0,813.0 1811.0,814.1 1812.0,815.4 1813.0,816.7 1814.0,817.9 1815.0,819.0 1816.0,820.3 1817.0,821.7 1818.0,823.6 1819.0,826.1 1820.0,829.8 1821.0,834.3 1822.0,839.0 1823.0,844.1 1824.0,849.5 1825.0,855.3 1826.0,861.8 1827.0,868.6 1828.0,875.5 1829.0,881.3 1830.0,886.3 1831.0,891.0 1832.0,895.6 1833.0,900.0 1834.0,904.0 1835.0,907.9 1836.0,911.6 1837.0,914.8 1838.0,918.0 1839.0,921.7 1840.0,925.6 1841.0,929.8 1842.0,934.5 1843.0,939.3 1844.0,944.3 1845.0,949.7 1846.0,955.7 1847.0,962.1 1848.0,968.8 1849.0,976.0 1850.0,984.0 1851.0,992.5 1852.0,1001.1 1853.0,1009.7 1854.0,1019.2 1855.0,1029.3 1856.0,1039.2 1857.0,1047.8 1858.0,1054.7 1859.0,1060.9 1860.0,1066.6 1861.0,1071.8 1862.0,1076.6 1863.0,1081.0 1864.0,1085.0 1865.0,1088.7 1866.0,1092.2 1867.0,1095.6 1868.0,1098.6 1869.0,1101.4 1870.0,1103.9 1871.0,1106.0 1872.0,1108.1 1873.0,1110.1 1874.0,1112.0 1875.0,1113.9 1876.0,1115.5 1877.0,1116.7 1878.0,1117.7 1879.0,1118.1 1880.0,1117.7 1881.0,1116.7 1882.0,1115.3 1883.0,1113.4 1884.0,1111.1 1885.0,1108.6 1886.0,1105.9 1887.0,1102.4 1888.0,1097.3 1889.0,1091.0 1890.0,1084.1 1891.0,1076.7 1892.0,1069.0 1893.0,1061.4 1894.0,1053.5 1895.0,1044.6 1896.0,1033.8 1897.0,1019.4 1898.0,1000.2 1899.0,985.0 1900.0,971.1 1901.0,958.2 1902.0,946.0 1903.0,934.3 1904.0,922.7 1905.0,911.1 1906.0,899.4 1907.0,887.8 1908.0,876.7 1909.0,866.3 1910.0,857.0 1911.0,848.8 1912.0,840.5 1913.0,832.6 1914.0,825.3 1915.0,819.1 1916.0,814.5 1917.0,812.0 1918.0,811.0 1919.0,810.3 1920.0,809.4 1921.0,807.5 1922.0,804.9 1923.0,802.1 1924.0,799.8 1925.0,797.5 1926.0,795.3 1927.0,793.6 1928.0,792.5 1929.0,791.5 1930.0,790.7 1931.0,790.2 1932.0,789.7 1933.0,789.2 1934.0,788.7 1935.0,788.4 1936.0,788.4 1937.0,788.8 1938.0,789.6 1939.0,790.5 1940.0,791.0 1941.0,791.1 1942.0,791.2 1943.0,791.4 1944.0,791.5 1945.0,791.6 1946.0,791.7 1947.0,791.8 1948.0,792.0 1949.0,792.1 1950.0,792.0 1951.0,791.8 1952.0,791.6 1953.0,791.4 1954.0,791.0 1955.0,790.6 1956.0,789.9 1957.0,789.3 1958.0,788.8 1959.0,788.0 1960.0,787.0 1961.0,785.9 1962.0,785.0 1963.0,784.3 1964.0,783.5 1965.0,783.0 1966.0,782.5 1967.0,782.2 1968.0,782.2 1969.0,782.1 1970.0,782.0 1971.0,782.1 1972.0,782.2 1973.0,782.2 1974.0,782.3 1975.0,782.3 1976.0,782.3 1977.0,782.6 1978.0,782.9 1979.0,783.2 1980.0,783.6 1981.0,783.8 1982.0,784.1 1983.0,784.6 1984.0,785.3 1985.0,786.1 1986.0,786.7 1987.0,787.4 1988.0,788.1 1989.0,789.0 1990.0,789.7 1991.0,790.6 1992.0,791.7 1993.0,792.6 1994.0,793.7 1995.0,794.9 1996.0,796.2 1997.0,797.4 1998.0,798.5 1999.0,799.6 2000.0,801.3 2001.0,802.6 2002.0,803.6 2003.0,805.3 2004.0,807.4 2005.0,809.9 2006.0,813.1 2007.0,816.0 2008.0,818.4 2009.0,820.8 2010.0,823.5 2011.0,826.0 2012.0,827.3 2013.0,828.3 2014.0,829.4 2015.0,830.7 2016.0,831.6 2017.0,832.1 2018.0,832.7 2019.0,832.9 2020.0,832.2 2021.0,831.6 2022.0,832.3 2023.0,833.4 2024.0,834.0 2025.0,834.5 2026.0,835.6 2027.0,836.4 2028.0,836.0 2029.0,835.8 2030.0,836.6 2031.0,837.2 2032.0,837.6 2033.0,837.8 2034.0,838.1 2035.0,838.5 2036.0,839.1 2037.0,839.5 2038.0,839.8 2039.0,840.3 2040.0,841.1 2041.0,841.6 2042.0,842.0 2043.0,842.7 2044.0,843.5 2045.0,844.8 2046.0,846.6 2047.0,848.1 2048.0,849.5 2049.0,850.9 2050.0,852.4 2051.0,854.2 2052.0,856.0 2053.0,857.2 2054.0,858.4 2055.0,859.9 2056.0,860.4 2057.0,859.9 2058.0,858.9 2059.0,857.6 2060.0,856.6 2061.0,855.0 2062.0,853.0 2063.0,850.7 2064.0,848.8 2065.0,847.9 2066.0,846.9 2067.0,845.6 2068.0,844.7 2069.0,843.7 2070.0,842.1 2071.0,839.9 2072.0,838.1 2073.0,837.6 2074.0,837.6 2075.0,837.2 2076.0,836.7 2077.0,836.6 2078.0,836.7 2079.0,837.2 2080.0,838.1 2081.0,839.5 2082.0,841.1 2083.0,845.9 2084.0,851.4 2085.0,854.1 2086.0,855.2 2087.0,855.0 2088.0,854.7 2089.0,854.3 2090.0,854.7 2091.0,856.9 2092.0,859.3 2093.0,861.2 2093.8,863.6" fill="none" stroke="#548235" stroke-width="5.6" stroke-linejoin="round" stroke-linecap="round"/>
<g fill="#000">
<rect x="115" y="19" width="4" height="1258"/>
<rect x="115" y="1261" width="1979" height="4"/>
<rect x="349" y="1263" width="4" height="14"/>
<rect x="640" y="1263" width="4" height="14"/>
<rect x="930" y="1263" width="4" height="14"/>
<rect x="1221" y="1263" width="4" height="14"/>
<rect x="1511" y="1263" width="4" height="14"/>
<rect x="1802" y="1263" width="4" height="14"/>
<rect x="2092" y="1263" width="4" height="14"/>
<rect x="490" y="792" width="5" height="90"/>
<rect x="1481" y="787" width="4" height="91"/>
<rect x="2051" y="891" width="5" height="90"/>
</g>
<g font-family="'Liberation Sans', sans-serif" font-weight="bold" font-size="100" fill="#000">
<text transform="translate(39.57,1346.30) scale(0.67615,0.67536)" xml:space="preserve">4100</text>
<text transform="translate(272.14,1346.30) scale(0.66944,0.67536)" xml:space="preserve">3600</text>
<text transform="translate(563.82,1350.00) scale(0.67639,0.67101)" xml:space="preserve">3100</text>
<text transform="translate(856.76,1346.80) scale(0.67209,0.67536)" xml:space="preserve">2600</text>
<text transform="translate(1148.94,1344.70) scale(0.67721,0.67681)" xml:space="preserve">2100</text>
<text transform="translate(1439.32,1344.70) scale(0.67642,0.67681)" xml:space="preserve">1600</text>
<text transform="translate(1731.62,1346.70) scale(0.67597,0.67826)" xml:space="preserve">1100</text>
<text transform="translate(2032.51,1343.50) scale(0.67925,0.67826)" xml:space="preserve">600</text>
<text transform="translate(0,182.9) scale(0.63377,0.68261)" x="227.0 300.7 360.7 387.5 447.5 447.7" xml:space="preserve">Na - A</text>
<text transform="translate(0,386.8) scale(0.60254,0.65507)" x="254.2 306.4 366.4 365.0 425.0 430.5" xml:space="preserve">Li - A</text>
<text transform="translate(0,601) scale(0.60702,0.67536)" x="263.7 323.7 357.6 417.6 423.2" xml:space="preserve">K - A</text>
<text transform="translate(0,808.2) scale(0.61699,0.66377)" x="230.0 298.9 358.9 388.6 448.6 452.5" xml:space="preserve">Rb - A</text>
<text transform="translate(0,1446.8) scale(0.63166,0.67826)" x="1231.3 1332.1 1391.3 1448.1 1505.8 1568.5 1633.8 1725.5 1788.6 1848.6 1908.6 1914.1 1948.3 2005.5" xml:space="preserve">Wavenumber (cm<tspan font-size="63.7" x="2097.2" dy="-34.8">-1</tspan><tspan x="2159.2" dy="34.8">)</tspan></text>
<text transform="translate(68,0) rotate(-90) scale(0.61857,0.68116)" x="-1414.8 -1354.8 -1302.1 -1240.5 -1202.9 -1140.3 -1081.9 -1026.6 -932.8 -901.7 -859.3 -823.8 -761.4 -701.2 -645.1" xml:space="preserve">% Transmittance</text>
<text transform="translate(0,944.40) scale(0.42741,0.44783)"><tspan font-size="144.5" x="1024.4" dy="-18.1">ν</tspan><tspan x="1102.7" dy="18.1">O-H</tspan></text>
<text transform="translate(0,934.00) scale(0.42893,0.44928)"><tspan font-size="155.3" x="3234.7" dy="-16.5">δ</tspan><tspan x="3328.6" dy="16.5">H-O-H</tspan></text>
<text transform="translate(0,1034.60) scale(0.43090,0.43913)"><tspan font-size="146.1" x="4581.9" dy="-17.3">ν</tspan><tspan x="4659.2" dy="17.3">O-T-O</tspan></text>
<text transform="translate(0,1194.20) scale(0.42979,0.44493)"><tspan font-size="142.1" x="4193.2" dy="-19.1">ν</tspan><tspan x="4270.9" dy="19.1">O-T-O</tspan></text>
</g>
</svg>
</body></html>
